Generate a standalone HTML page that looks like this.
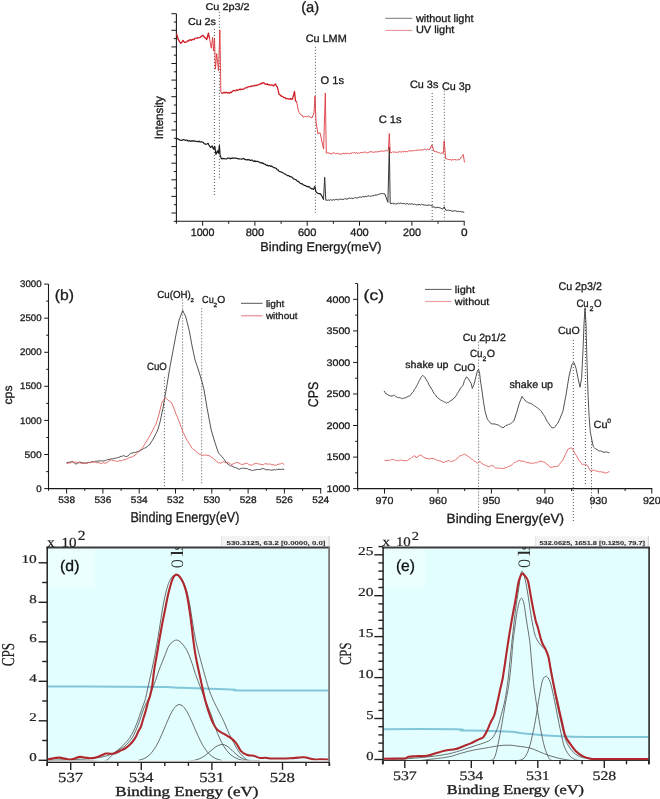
<!DOCTYPE html>
<html><head><meta charset="utf-8"><style>
html,body{margin:0;padding:0;background:#fff;}
svg{display:block;will-change:transform;filter:blur(0.35px);}
</style></head><body>
<svg width="660" height="799" viewBox="0 0 660 799" text-rendering="geometricPrecision">
<rect width="660" height="799" fill="#fff"/>
<line x1="176.4" y1="13.7" x2="176.4" y2="221.8" stroke="#1a1a1a" stroke-width="1.1" />
<line x1="175.9" y1="221.3" x2="464.7" y2="221.3" stroke="#1a1a1a" stroke-width="1.1" />
<line x1="171.4" y1="13.7" x2="176.4" y2="13.7" stroke="#1a1a1a" stroke-width="1.0" />
<line x1="173.8" y1="22" x2="176.4" y2="22" stroke="#1a1a1a" stroke-width="1.0" />
<line x1="171.4" y1="30.3" x2="176.4" y2="30.3" stroke="#1a1a1a" stroke-width="1.0" />
<line x1="173.8" y1="38.6" x2="176.4" y2="38.6" stroke="#1a1a1a" stroke-width="1.0" />
<line x1="171.4" y1="46.9" x2="176.4" y2="46.9" stroke="#1a1a1a" stroke-width="1.0" />
<line x1="173.8" y1="55.2" x2="176.4" y2="55.2" stroke="#1a1a1a" stroke-width="1.0" />
<line x1="171.4" y1="63.5" x2="176.4" y2="63.5" stroke="#1a1a1a" stroke-width="1.0" />
<line x1="173.8" y1="71.8" x2="176.4" y2="71.8" stroke="#1a1a1a" stroke-width="1.0" />
<line x1="171.4" y1="80.1" x2="176.4" y2="80.1" stroke="#1a1a1a" stroke-width="1.0" />
<line x1="173.8" y1="88.4" x2="176.4" y2="88.4" stroke="#1a1a1a" stroke-width="1.0" />
<line x1="171.4" y1="96.7" x2="176.4" y2="96.7" stroke="#1a1a1a" stroke-width="1.0" />
<line x1="173.8" y1="105" x2="176.4" y2="105" stroke="#1a1a1a" stroke-width="1.0" />
<line x1="171.4" y1="113.3" x2="176.4" y2="113.3" stroke="#1a1a1a" stroke-width="1.0" />
<line x1="173.8" y1="121.7" x2="176.4" y2="121.7" stroke="#1a1a1a" stroke-width="1.0" />
<line x1="171.4" y1="130" x2="176.4" y2="130" stroke="#1a1a1a" stroke-width="1.0" />
<line x1="173.8" y1="138.3" x2="176.4" y2="138.3" stroke="#1a1a1a" stroke-width="1.0" />
<line x1="171.4" y1="146.6" x2="176.4" y2="146.6" stroke="#1a1a1a" stroke-width="1.0" />
<line x1="173.8" y1="154.9" x2="176.4" y2="154.9" stroke="#1a1a1a" stroke-width="1.0" />
<line x1="171.4" y1="163.2" x2="176.4" y2="163.2" stroke="#1a1a1a" stroke-width="1.0" />
<line x1="173.8" y1="171.5" x2="176.4" y2="171.5" stroke="#1a1a1a" stroke-width="1.0" />
<line x1="171.4" y1="179.8" x2="176.4" y2="179.8" stroke="#1a1a1a" stroke-width="1.0" />
<line x1="173.8" y1="188.1" x2="176.4" y2="188.1" stroke="#1a1a1a" stroke-width="1.0" />
<line x1="171.4" y1="196.4" x2="176.4" y2="196.4" stroke="#1a1a1a" stroke-width="1.0" />
<line x1="173.8" y1="204.7" x2="176.4" y2="204.7" stroke="#1a1a1a" stroke-width="1.0" />
<line x1="171.4" y1="213" x2="176.4" y2="213" stroke="#1a1a1a" stroke-width="1.0" />
<line x1="173.8" y1="221.3" x2="176.4" y2="221.3" stroke="#1a1a1a" stroke-width="1.0" />
<line x1="464.2" y1="221.3" x2="464.2" y2="225.8" stroke="#1a1a1a" stroke-width="1.0" />
<line x1="438" y1="221.3" x2="438" y2="223.8" stroke="#1a1a1a" stroke-width="1.0" />
<line x1="411.9" y1="221.3" x2="411.9" y2="225.8" stroke="#1a1a1a" stroke-width="1.0" />
<line x1="385.7" y1="221.3" x2="385.7" y2="223.8" stroke="#1a1a1a" stroke-width="1.0" />
<line x1="359.5" y1="221.3" x2="359.5" y2="225.8" stroke="#1a1a1a" stroke-width="1.0" />
<line x1="333.4" y1="221.3" x2="333.4" y2="223.8" stroke="#1a1a1a" stroke-width="1.0" />
<line x1="307.2" y1="221.3" x2="307.2" y2="225.8" stroke="#1a1a1a" stroke-width="1.0" />
<line x1="281.1" y1="221.3" x2="281.1" y2="223.8" stroke="#1a1a1a" stroke-width="1.0" />
<line x1="254.9" y1="221.3" x2="254.9" y2="225.8" stroke="#1a1a1a" stroke-width="1.0" />
<line x1="228.7" y1="221.3" x2="228.7" y2="223.8" stroke="#1a1a1a" stroke-width="1.0" />
<line x1="202.6" y1="221.3" x2="202.6" y2="225.8" stroke="#1a1a1a" stroke-width="1.0" />
<line x1="176.4" y1="221.3" x2="176.4" y2="223.8" stroke="#1a1a1a" stroke-width="1.0" />
<text x="202.6" y="235.7" font-family='"Liberation Sans", sans-serif' font-size="10.8" fill="#1a1a1a" stroke="#1a1a1a" stroke-width="0.3" textLength="23.8" lengthAdjust="spacingAndGlyphs" text-anchor="middle">1000</text>
<text x="254.9" y="235.7" font-family='"Liberation Sans", sans-serif' font-size="10.8" fill="#1a1a1a" stroke="#1a1a1a" stroke-width="0.3" textLength="18.5" lengthAdjust="spacingAndGlyphs" text-anchor="middle">800</text>
<text x="307.2" y="235.7" font-family='"Liberation Sans", sans-serif' font-size="10.8" fill="#1a1a1a" stroke="#1a1a1a" stroke-width="0.3" textLength="18.5" lengthAdjust="spacingAndGlyphs" text-anchor="middle">600</text>
<text x="359.5" y="235.7" font-family='"Liberation Sans", sans-serif' font-size="10.8" fill="#1a1a1a" stroke="#1a1a1a" stroke-width="0.3" textLength="18.5" lengthAdjust="spacingAndGlyphs" text-anchor="middle">400</text>
<text x="411.9" y="235.7" font-family='"Liberation Sans", sans-serif' font-size="10.8" fill="#1a1a1a" stroke="#1a1a1a" stroke-width="0.3" textLength="18" lengthAdjust="spacingAndGlyphs" text-anchor="middle">200</text>
<text x="464.2" y="235.7" font-family='"Liberation Sans", sans-serif' font-size="10.8" fill="#1a1a1a" stroke="#1a1a1a" stroke-width="0.3" textLength="6.6" lengthAdjust="spacingAndGlyphs" text-anchor="middle">0</text>
<text x="260.3" y="251.3" font-family='"Liberation Sans", sans-serif' font-size="12.7" fill="#1a1a1a" stroke="#1a1a1a" stroke-width="0.3" textLength="121.2" lengthAdjust="spacingAndGlyphs" >Binding Energy(meV)</text>
<text transform="translate(162.9,139.2) rotate(-90)" x="0" y="0" font-family='"Liberation Sans", sans-serif' font-size="11.9" fill="#1a1a1a" stroke="#1a1a1a" stroke-width="0.3" textLength="43" lengthAdjust="spacingAndGlyphs">Intensity</text>
<text x="301.2" y="11.9" font-family='"Liberation Sans", sans-serif' font-size="14.7" fill="#1a1a1a" stroke="#1a1a1a" stroke-width="0.3" textLength="18" lengthAdjust="spacingAndGlyphs" >(a)</text>
<line x1="385.3" y1="18.3" x2="412.3" y2="18.3" stroke="#555" stroke-width="0.8" />
<text x="415.9" y="22.2" font-family='"Liberation Sans", sans-serif' font-size="10.7" fill="#1a1a1a" stroke="#1a1a1a" stroke-width="0.3" textLength="57.6" lengthAdjust="spacingAndGlyphs" >without light</text>
<line x1="385.3" y1="30.4" x2="412.3" y2="30.4" stroke="#e07070" stroke-width="0.8" />
<text x="415.9" y="33.3" font-family='"Liberation Sans", sans-serif' font-size="10.4" fill="#1a1a1a" stroke="#1a1a1a" stroke-width="0.3" textLength="38.4" lengthAdjust="spacingAndGlyphs" >UV light</text>
<text x="205.5" y="9.8" font-family='"Liberation Sans", sans-serif' font-size="9.8" fill="#1a1a1a" stroke="#1a1a1a" stroke-width="0.3" textLength="44.1" lengthAdjust="spacingAndGlyphs" >Cu 2p3/2</text>
<text x="187.9" y="25.3" font-family='"Liberation Sans", sans-serif' font-size="10.2" fill="#1a1a1a" stroke="#1a1a1a" stroke-width="0.3" textLength="28.1" lengthAdjust="spacingAndGlyphs" >Cu 2s</text>
<text x="305.7" y="41.8" font-family='"Liberation Sans", sans-serif' font-size="10.7" fill="#1a1a1a" stroke="#1a1a1a" stroke-width="0.3" textLength="41" lengthAdjust="spacingAndGlyphs" >Cu LMM</text>
<text x="320.6" y="84.4" font-family='"Liberation Sans", sans-serif' font-size="11" fill="#1a1a1a" stroke="#1a1a1a" stroke-width="0.3" textLength="23.4" lengthAdjust="spacingAndGlyphs" >O 1s</text>
<text x="410" y="87.8" font-family='"Liberation Sans", sans-serif' font-size="10.7" fill="#1a1a1a" stroke="#1a1a1a" stroke-width="0.3" textLength="28.3" lengthAdjust="spacingAndGlyphs" >Cu 3s</text>
<text x="442" y="89.7" font-family='"Liberation Sans", sans-serif' font-size="11" fill="#1a1a1a" stroke="#1a1a1a" stroke-width="0.3" textLength="28.8" lengthAdjust="spacingAndGlyphs" >Cu 3p</text>
<text x="378.7" y="122.8" font-family='"Liberation Sans", sans-serif' font-size="10.7" fill="#1a1a1a" stroke="#1a1a1a" stroke-width="0.3" textLength="22.9" lengthAdjust="spacingAndGlyphs" >C 1s</text>
<line x1="214.4" y1="29" x2="214.4" y2="195" stroke="#484848" stroke-width="0.95" stroke-dasharray="1 2"/>
<line x1="219.4" y1="11.8" x2="219.4" y2="178.5" stroke="#484848" stroke-width="0.95" stroke-dasharray="1 2"/>
<line x1="315.4" y1="46.8" x2="315.4" y2="213.5" stroke="#484848" stroke-width="0.95" stroke-dasharray="1 2"/>
<line x1="432.2" y1="93" x2="432.2" y2="220.2" stroke="#484848" stroke-width="0.95" stroke-dasharray="1 2"/>
<line x1="444.3" y1="90.8" x2="444.3" y2="220.2" stroke="#484848" stroke-width="0.95" stroke-dasharray="1 2"/>
<polyline points="176.7,138.5 177.6,138.7 178.6,139.4 179.5,139.7 180.4,140.3 181.2,140.4 182.1,140.4 182.9,139.7 183.8,139.6 184.6,140.1 185.5,140.6 186.4,140.1 187.2,140.2 188.1,141.2 189,140.7 189.9,140.9 190.8,141.3 191.7,140.9 192.6,141.2 193.4,140.6 194.3,141.2 195.2,141.1 196,141.6 196.8,141.3 197.6,141.7 198.4,141.7 199.2,141.1 200,142 200.8,141.9 201.6,141.9 202.4,142.2 203.3,142.3 204.1,143.7 205,143.8 205.8,144.3 206.9,144 208.1,143.3 208.9,145.1 209.8,146.3 210.6,147.5 212.2,145.9 213.4,149.1 214.8,146.4 215.9,154.4 217.5,150.7 218.5,153.3 219.4,145.4 220.1,154.9 221.2,158.4 222,158.9 222.9,158.3 223.7,158.8 224.5,158.5 225.3,159 226.2,159 227,158.6 227.8,158.1 228.6,158.1 229.4,158.1 230.2,158.9 231,158.2 231.8,158.4 232.6,157.9 233.4,158.1 234.2,158.2 235,158.1 235.8,158.1 236.7,158.4 237.5,158.5 238.3,158.9 239.1,158.7 239.9,159 240.7,159 241.6,159.2 242.4,158.9 243.2,158.4 244,158.8 244.8,159.4 245.7,159.7 246.5,159.8 247.4,159.6 248.2,159.9 249,159.5 249.9,160.4 250.7,160.3 251.6,160.2 252.4,160.1 253.2,161.1 254.1,161.5 254.9,160.7 255.7,161.6 256.6,161.4 257.4,161.3 258.3,161.6 259.1,162 259.9,162.6 260.8,163 261.6,162.4 262.4,163.4 263.2,163.1 264.1,164.1 264.9,164 265.7,164.9 266.5,165.3 267.4,165.1 268.2,166 269,165.5 269.8,165.6 270.7,166.5 271.5,166.1 272.3,166.6 273.1,167.2 274,167.7 274.8,167.9 275.6,168.1 276.5,168.5 277.3,170 278.2,169.9 279,171.2 279.9,171.7 280.7,171.8 281.5,172.1 282.4,172.6 283.2,173.1 284.1,173.6 284.9,174 285.8,174.4 286.6,174.9 287.4,175.7 288.3,175.6 289.1,175.9 290,176.7 290.8,176.6 291.7,177.1 292.5,177.7 293.4,178.8 294.2,178.9 295.1,179.6 296,179.6 296.9,180.7 297.7,181.4 298.6,181.4 299.5,182.7 300.3,183.3 301.2,183.8 302.1,183.7 302.9,184.7 303.8,184.9 304.6,185.5 305.5,185.5 306.3,186.3 307.2,186.4 308,187 308.8,186.6 309.6,187 310.4,188.1 311.2,188.8 312,188.4 312.8,189 313.6,189.4 314.8,186.4 315.9,191.7 317,192.8 318.2,193.6 319.4,193.6 320.5,193.9 321.5,195.5 322.5,197.2 323.5,199.2" fill="none" stroke="#1e1e1e" stroke-width="1.2" stroke-linejoin="round" stroke-linecap="round" />
<polyline points="323.5,199.2 324.7,177.3 325.8,200.3 326.6,200.1 327.4,200.3 328.2,200 329,200 329.8,200.4 330.6,199.5 331.4,200.1 332.3,200.2 333.1,199.7 333.9,199.6 334.7,200.2 335.5,199.5 336.3,199.4 337.1,199.7 337.9,199.7 338.7,199.8 339.6,199.1 340.4,199.3 341.3,199.2 342.1,199.7 342.9,199.1 343.8,199.5 344.6,198.7 345.4,198.8 346.3,199 347.1,199.2 348,198.6 348.8,198.3 349.6,198.1 350.5,198.5 351.3,198 352.2,198.6 353,198.2 353.8,198.5 354.7,197.6 355.5,197.6 356.4,198.1 357.2,197.8 358.1,197.9 358.9,197.3 359.8,196.9 360.6,197 361.4,197.4 362.3,196.7 363.1,196.7 364,196.7 364.8,196.6 365.7,196.4 366.5,196.9 367.4,195.9 368.2,196.2 369,195.5 369.9,196.4 370.7,196.2 371.6,196.2 372.4,195.4 373.2,195.8 374.1,195.7 374.9,194.7 375.8,195.2 376.6,195.1 377.4,194.8 378.3,194.5 379.1,194.1 379.9,194 380.8,193.7 381.6,193.4 382.5,193.8 383.3,193.6 384.8,193.9 387.9,202.3 389.3,147 390.2,203.4 391.1,203.2 391.9,203.8 392.8,202.9 393.6,203.9 394.4,203.6 395.3,203.9 396.1,203.9 397,203.9 397.9,203.5 398.7,202.9 399.6,203.7 400.4,203.1 401.2,203.3 402.1,203.5 402.9,203.7 403.7,203.6 404.5,203.5 405.3,204.2 406.1,203.9 406.9,203.6 407.7,203.6 408.6,204.3 409.4,203.9 410.2,204.3 411,203.9 411.8,203.7 412.6,204.1 413.4,204.5 414.2,204.2 415,203.9 415.8,204.7 416.6,204.9 417.4,204.8 418.2,204.9 419,204.1 419.9,204.8 420.7,205.1 421.5,204.3 422.3,204.6 423.1,204.7 423.9,205 424.7,205.1 425.5,205.1 426.3,205.2 427.1,205.7 428,204.9 428.8,205 429.6,205.2 430.4,205.3 431.2,205.8 432.2,205.4 433.6,207.2 434.5,206.8 435.3,207.9 436.2,207.8 437.1,207.1 438,207.6 438.8,207.5 439.7,207.8 440.7,208.1 441.7,208.6 442.7,209.2 444.2,206.8 445,208.7 445.8,210.2 446.7,210.4 447.6,210.3 448.5,210.2 449.4,210.5 450.3,210.3 451.2,210.9 452.1,211.2 453,211.1 453.8,211 454.6,210.7 455.4,210.8 456.2,211.1 457.1,211.4 457.9,211.6 458.7,211.2 459.5,211.7 460.3,211.4 461.2,211.8 462.1,211.8 463,211.9 463.9,212.3" fill="none" stroke="#2a2a2a" stroke-width="0.95" stroke-linejoin="round" stroke-linecap="round" />
<polyline points="176.7,34.1 178.1,39.1 179,40.6 179.9,42.1 180.8,43.2 181.9,42.2 183.1,40.5 184.5,42.3 185.5,42.4 186.6,41.7 187.6,40.9 188.5,41.1 189.4,39.8 190.4,40 191.3,40.3 192.2,39.5 193.1,39.4 194,39.5 194.9,38.3 195.8,38.4 196.7,38.2 197.6,37.7 198.6,37.8 199.5,37.6 200.4,37.3 201.3,36.1 202.2,35.8 203.1,35.5 204.5,37.3 205.6,38.1 206.7,39.5 208.4,33.2 209.5,38.2" fill="none" stroke="#cf2029" stroke-width="1.35" stroke-linejoin="round" stroke-linecap="round" />
<polyline points="209.5,38.2 211.3,48.2 212.6,37.3 213.5,50.9 214.5,38.2 215.4,69.1 216.7,53.6 218.5,70.9 219.9,30 220.4,60 220.8,92.1 221.5,92.7" fill="none" stroke="#dc3a40" stroke-width="0.9" stroke-linejoin="round" stroke-linecap="round" />
<polyline points="221.5,92.7 222.4,93.2 223.2,92.9 224.1,92.2 224.9,92.9 225.8,92.5 226.7,92.3 227.6,93 228.5,92.7 229.4,93.3 230.4,92.1 231.3,92.6 232.3,91.3 233.2,90.7 234.2,90.5 235,90.9 235.8,90.6 236.6,89.8 237.4,90.4 238.3,89.8 239.1,89.8 239.9,89.1 240.7,89.8 241.5,89.1 242.3,89.1 243.1,89.3 243.9,89 244.8,88.1 245.6,87.9 246.4,87.9 247.3,87.2 248.1,87 249,86.6 249.8,86.6 250.7,86.7 251.5,85.8 252.4,86.1 253.3,86.1 254.1,85.5 255,85.3 255.9,85.7 256.8,85.1 257.6,84.8 258.5,84.8 259.3,84.4 260.2,84.2 261,83.1 261.9,83.8 262.7,82.8 263.7,82.6 264.8,83.9 265.8,84 266.6,84.6 267.4,83.8 268.2,84.9 269,84.6 269.8,85 270.6,85.1 271.6,84.8 272.6,85.2 273.6,86.1 274.6,84.7 275.5,84 276.4,85.9 277.3,86.7 279.1,94.5 280,94.6 280.9,95.8 281.8,96.4 282.7,96.4 283.7,97.6 284.8,97.6 285.8,98.5 286.9,98.5 287.9,98.9 289,99 289.9,99.3 290.8,98.5 291.6,99.3 292.5,99 294.5,91.5 295.5,101 296.5,101.5" fill="none" stroke="#cf2029" stroke-width="1.3" stroke-linejoin="round" stroke-linecap="round" />
<polyline points="296.5,101.5 298.5,111 299.3,112.7 300.2,114.1 301,115 302,115.1 303,116.9 304,117 304.8,116.3 305.7,116.5 306.5,116.6 307.3,116.8 308.2,116 309,116 310,117.2 311,117.4 312,118 313,115.3 314,113 315,96 316,122 318,134 319,133.1 320,132.6 323.6,149.1 325.3,93 326.3,153.1 327.2,152.8 328.1,152.8 329.1,153.1 330,153.6 330.9,153.7 331.8,154 332.8,152.9 333.7,152.7 334.6,153.1 335.5,153.8 336.4,153.4 337.3,153.4 338.2,153.4 339.1,154 340,154 340.9,154.3 341.7,153.8 342.6,153.7 343.4,153.2 344.3,154.2 345.2,153 346,153.5 346.9,153.9 347.8,152.9 348.6,153.6 349.5,153.8 350.3,153.3 351.2,153.1 352,153.4 352.8,152.5 353.7,152.9 354.5,152.5 355.3,153.3 356.1,152.6 356.9,152.7 357.8,153.4 358.6,153.1 359.4,153.2 360.2,152.6 361,152.6 361.9,152.8 362.7,152.5 363.5,152.2 364.3,152.3 365.1,152 365.9,152.2 366.8,152.9 367.6,152.8 368.4,152.4 369.2,152.2 370,151.9 370.9,151.6 371.7,151.8 372.5,152 373.3,152.3 374.2,152.3 375,151.6 375.9,152 376.7,151.9 377.6,151.8 378.4,151.6 379.3,151.7 380.1,151.1 381,151.4 381.8,150.9 382.7,151 383.5,151.3 384.4,151.1 385.2,150.8 386.3,150.4 387.3,151 388.4,150.3 389.3,133.5 390.2,152.5 391,152.6 391.9,152.5 392.7,151.7 393.5,152.3 394.3,151.9 395.2,152.3 396,152 396.8,152.4 397.7,152.1 398.5,152.2 399.3,151.6 400.2,151.9 401,151.9 401.8,152 402.6,151.3 403.5,151.9 404.3,151.4 405.1,151.8 406,151.5 406.8,151.7 407.6,151.6 408.4,151 409.3,150.9 410.1,150.4 410.9,151.1 411.8,151.2 412.6,150.5 413.4,150.7 414.2,150.7 415.1,150.6 415.9,149.8 416.7,150.5 417.5,150.2 418.4,150.2 419.2,149.9 420,149.8 420.8,150 421.6,150.1 422.5,149.9 423.3,149.9 424.1,149.1 424.9,149.2 425.7,149.5 426.5,149.7 427.4,149.1 428.2,149.6 429,149.5 429.8,149.3 430.9,146.6 431.9,145 434,151.4 434.9,151.7 435.8,151.7 436.7,151.8 437.7,152.2 438.6,152.7 439.5,152.8 440.4,153.5 441.3,153.1 442.3,152.9 443.2,153.5 444.2,140.8 445.7,158.8 446.6,158.9 447.5,159 448.4,159.5 449.2,159.6 450.1,159.4 451,159.9 451.9,160.4 452.7,159.3 453.6,159.8 454.4,159.6 455.2,159.8 456.1,159.4 456.9,160.3 457.8,159.7 458.6,159.3 459.5,159.9 460.4,158.7 461.4,156.8 462.4,156 463.3,154.6 464.4,162" fill="none" stroke="#dc3a40" stroke-width="0.9" stroke-linejoin="round" stroke-linecap="round" />
<line x1="48.5" y1="284.1" x2="48.5" y2="489.1" stroke="#1a1a1a" stroke-width="1.1" />
<line x1="48" y1="488.6" x2="321.2" y2="488.6" stroke="#1a1a1a" stroke-width="1.1" />
<line x1="44.2" y1="488.6" x2="48.5" y2="488.6" stroke="#1a1a1a" stroke-width="1.0" />
<line x1="46.2" y1="471.6" x2="48.5" y2="471.6" stroke="#1a1a1a" stroke-width="1.0" />
<line x1="44.2" y1="454.5" x2="48.5" y2="454.5" stroke="#1a1a1a" stroke-width="1.0" />
<line x1="46.2" y1="437.5" x2="48.5" y2="437.5" stroke="#1a1a1a" stroke-width="1.0" />
<line x1="44.2" y1="420.4" x2="48.5" y2="420.4" stroke="#1a1a1a" stroke-width="1.0" />
<line x1="46.2" y1="403.4" x2="48.5" y2="403.4" stroke="#1a1a1a" stroke-width="1.0" />
<line x1="44.2" y1="386.3" x2="48.5" y2="386.3" stroke="#1a1a1a" stroke-width="1.0" />
<line x1="46.2" y1="369.3" x2="48.5" y2="369.3" stroke="#1a1a1a" stroke-width="1.0" />
<line x1="44.2" y1="352.3" x2="48.5" y2="352.3" stroke="#1a1a1a" stroke-width="1.0" />
<line x1="46.2" y1="335.2" x2="48.5" y2="335.2" stroke="#1a1a1a" stroke-width="1.0" />
<line x1="44.2" y1="318.2" x2="48.5" y2="318.2" stroke="#1a1a1a" stroke-width="1.0" />
<line x1="46.2" y1="301.1" x2="48.5" y2="301.1" stroke="#1a1a1a" stroke-width="1.0" />
<line x1="44.2" y1="284.1" x2="48.5" y2="284.1" stroke="#1a1a1a" stroke-width="1.0" />
<text x="41.6" y="491.7" font-family='"Liberation Sans", sans-serif' font-size="9.5" fill="#1a1a1a" stroke="#1a1a1a" stroke-width="0.3" textLength="5.4" lengthAdjust="spacingAndGlyphs" text-anchor="end">0</text>
<text x="41.6" y="457.6" font-family='"Liberation Sans", sans-serif' font-size="9.5" fill="#1a1a1a" stroke="#1a1a1a" stroke-width="0.3" textLength="17.1" lengthAdjust="spacingAndGlyphs" text-anchor="end">500</text>
<text x="41.6" y="423.5" font-family='"Liberation Sans", sans-serif' font-size="9.5" fill="#1a1a1a" stroke="#1a1a1a" stroke-width="0.3" textLength="21.6" lengthAdjust="spacingAndGlyphs" text-anchor="end">1000</text>
<text x="41.6" y="389.4" font-family='"Liberation Sans", sans-serif' font-size="9.5" fill="#1a1a1a" stroke="#1a1a1a" stroke-width="0.3" textLength="21.6" lengthAdjust="spacingAndGlyphs" text-anchor="end">1500</text>
<text x="41.6" y="355.4" font-family='"Liberation Sans", sans-serif' font-size="9.5" fill="#1a1a1a" stroke="#1a1a1a" stroke-width="0.3" textLength="21.6" lengthAdjust="spacingAndGlyphs" text-anchor="end">2000</text>
<text x="41.6" y="321.3" font-family='"Liberation Sans", sans-serif' font-size="9.5" fill="#1a1a1a" stroke="#1a1a1a" stroke-width="0.3" textLength="21.6" lengthAdjust="spacingAndGlyphs" text-anchor="end">2500</text>
<text x="41.6" y="287.2" font-family='"Liberation Sans", sans-serif' font-size="9.5" fill="#1a1a1a" stroke="#1a1a1a" stroke-width="0.3" textLength="21.6" lengthAdjust="spacingAndGlyphs" text-anchor="end">3000</text>
<line x1="320.7" y1="488.6" x2="320.7" y2="493.6" stroke="#1a1a1a" stroke-width="1.0" />
<line x1="302.6" y1="488.6" x2="302.6" y2="490.8" stroke="#1a1a1a" stroke-width="1.0" />
<line x1="284.4" y1="488.6" x2="284.4" y2="493.6" stroke="#1a1a1a" stroke-width="1.0" />
<line x1="266.3" y1="488.6" x2="266.3" y2="490.8" stroke="#1a1a1a" stroke-width="1.0" />
<line x1="248.1" y1="488.6" x2="248.1" y2="493.6" stroke="#1a1a1a" stroke-width="1.0" />
<line x1="230" y1="488.6" x2="230" y2="490.8" stroke="#1a1a1a" stroke-width="1.0" />
<line x1="211.8" y1="488.6" x2="211.8" y2="493.6" stroke="#1a1a1a" stroke-width="1.0" />
<line x1="193.7" y1="488.6" x2="193.7" y2="490.8" stroke="#1a1a1a" stroke-width="1.0" />
<line x1="175.5" y1="488.6" x2="175.5" y2="493.6" stroke="#1a1a1a" stroke-width="1.0" />
<line x1="157.4" y1="488.6" x2="157.4" y2="490.8" stroke="#1a1a1a" stroke-width="1.0" />
<line x1="139.2" y1="488.6" x2="139.2" y2="493.6" stroke="#1a1a1a" stroke-width="1.0" />
<line x1="121.1" y1="488.6" x2="121.1" y2="490.8" stroke="#1a1a1a" stroke-width="1.0" />
<line x1="102.9" y1="488.6" x2="102.9" y2="493.6" stroke="#1a1a1a" stroke-width="1.0" />
<line x1="84.8" y1="488.6" x2="84.8" y2="490.8" stroke="#1a1a1a" stroke-width="1.0" />
<line x1="66.6" y1="488.6" x2="66.6" y2="493.6" stroke="#1a1a1a" stroke-width="1.0" />
<line x1="48.5" y1="488.6" x2="48.5" y2="490.8" stroke="#1a1a1a" stroke-width="1.0" />
<text x="320.7" y="502.7" font-family='"Liberation Sans", sans-serif' font-size="9.5" fill="#1a1a1a" stroke="#1a1a1a" stroke-width="0.3" textLength="16.8" lengthAdjust="spacingAndGlyphs" text-anchor="middle">524</text>
<text x="284.4" y="502.7" font-family='"Liberation Sans", sans-serif' font-size="9.5" fill="#1a1a1a" stroke="#1a1a1a" stroke-width="0.3" textLength="16.8" lengthAdjust="spacingAndGlyphs" text-anchor="middle">526</text>
<text x="248.1" y="502.7" font-family='"Liberation Sans", sans-serif' font-size="9.5" fill="#1a1a1a" stroke="#1a1a1a" stroke-width="0.3" textLength="16.8" lengthAdjust="spacingAndGlyphs" text-anchor="middle">528</text>
<text x="211.8" y="502.7" font-family='"Liberation Sans", sans-serif' font-size="9.5" fill="#1a1a1a" stroke="#1a1a1a" stroke-width="0.3" textLength="16.8" lengthAdjust="spacingAndGlyphs" text-anchor="middle">530</text>
<text x="175.5" y="502.7" font-family='"Liberation Sans", sans-serif' font-size="9.5" fill="#1a1a1a" stroke="#1a1a1a" stroke-width="0.3" textLength="16.8" lengthAdjust="spacingAndGlyphs" text-anchor="middle">532</text>
<text x="139.2" y="502.7" font-family='"Liberation Sans", sans-serif' font-size="9.5" fill="#1a1a1a" stroke="#1a1a1a" stroke-width="0.3" textLength="16.8" lengthAdjust="spacingAndGlyphs" text-anchor="middle">534</text>
<text x="102.9" y="502.7" font-family='"Liberation Sans", sans-serif' font-size="9.5" fill="#1a1a1a" stroke="#1a1a1a" stroke-width="0.3" textLength="16.8" lengthAdjust="spacingAndGlyphs" text-anchor="middle">536</text>
<text x="66.6" y="502.7" font-family='"Liberation Sans", sans-serif' font-size="9.5" fill="#1a1a1a" stroke="#1a1a1a" stroke-width="0.3" textLength="16.8" lengthAdjust="spacingAndGlyphs" text-anchor="middle">538</text>
<text x="130.4" y="522.4" font-family='"Liberation Sans", sans-serif' font-size="14.2" fill="#1a1a1a" stroke="#1a1a1a" stroke-width="0.3" textLength="109" lengthAdjust="spacingAndGlyphs" >Binding Energy(eV)</text>
<text transform="translate(11.8,404.5) rotate(-90)" x="0" y="0" font-family='"Liberation Sans", sans-serif' font-size="11.9" fill="#1a1a1a" stroke="#1a1a1a" stroke-width="0.3" textLength="19" lengthAdjust="spacingAndGlyphs">cps</text>
<text x="54.8" y="299.6" font-family='"Liberation Sans", sans-serif' font-size="14.8" fill="#1a1a1a" stroke="#1a1a1a" stroke-width="0.3" textLength="19.2" lengthAdjust="spacingAndGlyphs" >(b)</text>
<line x1="241" y1="303.3" x2="262.6" y2="303.3" stroke="#444" stroke-width="0.9" />
<text x="265.9" y="306.8" font-family='"Liberation Sans", sans-serif' font-size="9.6" fill="#1a1a1a" stroke="#1a1a1a" stroke-width="0.3" textLength="18.4" lengthAdjust="spacingAndGlyphs" >light</text>
<line x1="241" y1="315.7" x2="262.6" y2="315.7" stroke="#eaa0a6" stroke-width="1.5" />
<text x="265.9" y="319.2" font-family='"Liberation Sans", sans-serif' font-size="9.6" fill="#1a1a1a" stroke="#1a1a1a" stroke-width="0.3" textLength="31.7" lengthAdjust="spacingAndGlyphs" >without</text>
<text x="157.3" y="297.7" font-family='"Liberation Sans", sans-serif' font-size="10.2" fill="#1a1a1a" stroke="#1a1a1a" stroke-width="0.3" textLength="33.5" lengthAdjust="spacingAndGlyphs" >Cu(OH)</text>
<text x="190.5" y="302" font-family='"Liberation Sans", sans-serif' font-size="5.6" fill="#1a1a1a" stroke="#1a1a1a" stroke-width="0.3" textLength="3.4" lengthAdjust="spacingAndGlyphs" >2</text>
<text x="202.1" y="303.2" font-family='"Liberation Sans", sans-serif' font-size="10.2" fill="#1a1a1a" stroke="#1a1a1a" stroke-width="0.3" textLength="11.7" lengthAdjust="spacingAndGlyphs" >Cu</text>
<text x="213.5" y="306.9" font-family='"Liberation Sans", sans-serif' font-size="6" fill="#1a1a1a" stroke="#1a1a1a" stroke-width="0.3" textLength="3.6" lengthAdjust="spacingAndGlyphs" >2</text>
<text x="217.3" y="303.2" font-family='"Liberation Sans", sans-serif' font-size="10.2" fill="#1a1a1a" stroke="#1a1a1a" stroke-width="0.3" textLength="8" lengthAdjust="spacingAndGlyphs" >O</text>
<text x="147" y="370.2" font-family='"Liberation Sans", sans-serif' font-size="10.4" fill="#1a1a1a" stroke="#1a1a1a" stroke-width="0.3" textLength="19.8" lengthAdjust="spacingAndGlyphs" >CuO</text>
<line x1="164.4" y1="377.2" x2="164.4" y2="488" stroke="#484848" stroke-width="0.95" stroke-dasharray="1 2"/>
<line x1="182.6" y1="299.5" x2="182.6" y2="482.5" stroke="#484848" stroke-width="0.95" stroke-dasharray="1 2"/>
<line x1="201.7" y1="308.3" x2="201.7" y2="484.5" stroke="#484848" stroke-width="0.95" stroke-dasharray="1 2"/>
<polyline points="66.8,462.6 68.1,462.3 69.4,462.1 70.8,462.1 72.1,461.5 73.4,462.3 74.6,463.2 75.9,464.1 77.2,463.5 78.4,462.5 79.7,462.1 80.9,462.3 82.1,462.7 83.4,463.1 84.6,462.7 85.8,463.3 87,462.9 88.2,462.4 89.5,462.7 90.7,462.4 91.9,461.6 93.1,462 94.4,461.7 95.6,461.1 96.8,461.2 98,461.2 99.2,460.8 100.3,460.7 101.5,461.1 102.7,460.7 103.9,461.1 105.2,460.5 106.4,460.1 107.7,459.6 109,459.5 110.2,459.1 111.5,458.8 112.7,458.9 113.9,458.4 115.2,458.3 116.4,457.9 117.6,457.7 118.8,457.4 120,456.8 121.2,456.2 122.4,456.3 123.6,455.5 125.2,456.4 126.7,456.5 128,455.8 129.2,454.7 130.5,453.5 131.8,453.1 133.2,452.7 134.5,452.5 135.8,452.4 137.3,451.5 138.8,451.2 139.9,450.8 141,449.9 142.2,449.7 143.3,448.7 144.4,448.2 145.7,447.7 147.1,446.8 148.4,445.3 149.7,444.8 151.1,442.2 152.5,440.3 153.9,437.6 155.2,435 156.4,432.9 157.7,430 160,422.2 163,408.2 165,396.2 167.1,384.2 170.1,366.1 173.1,350.1 176.1,334.1 179.1,320 182.7,310.4 183.8,312.9 185,315.1 186.1,318 189.1,330.1 192.1,346.1 195.1,360.1 199.1,372.1 202.1,382.2 204.1,390.2 207.1,408.2 210.1,424.2 211.2,430 214.8,442.1 218.5,453 219.7,454.3 220.9,455.7 222.1,456.7 223.3,458.3 224.6,460 225.8,462.1 227,463 228.2,464.5 229.4,465.2 230.6,465.9 231.8,465.9 233,466.6 234.2,467.3 235.6,467.6 237.1,468.2 238.5,469.2 239.9,469.1 241.3,468.3 242.7,468.2 243.9,468.3 245.2,468.4 246.4,468.5 247.6,468.7 248.8,469.5 250,469.5 251.2,470.3 252.4,470.6 253.6,470.1 254.8,470.1 256.1,469.7 257.3,469.5 258.5,469.4 259.9,469.5 261.3,469 262.7,468.5 264.1,468.8 265.6,469.7 267,469.8 268.2,469.6 269.4,469.8 270.6,470.2 271.8,470.1 273,470 274.2,469.5 275.4,470.1 276.7,469.3 277.9,469.4 279.1,469.2 280.3,469.6 281.5,469.3 282.7,469.2 283.9,469.4" fill="none" stroke="#333" stroke-width="0.85" stroke-linejoin="round" stroke-linecap="round" />
<polyline points="66.8,463.3 68,463.1 69.2,463.1 70.4,462.9 71.6,462.3 72.8,462.1 74,462.2 75.2,462.1 76.3,462.1 77.5,462.7 78.6,462.8 79.7,462.9 80.8,463.1 82,463.4 83.1,463.1 84.2,463.6 85.3,463.3 86.5,462.9 87.6,463.2 88.8,462.3 89.9,462.7 91,461.9 92.2,462.2 93.3,461.8 94.5,461.9 95.6,462.2 96.8,462.8 97.9,462.4 99,462.7 100.2,463.3 101.3,463.5 102.5,463.1 103.6,462.6 104.7,463.2 105.9,463.1 107,462.6 108.3,461.4 109.5,460.8 110.8,460 111.9,460 113.1,460.4 114.2,460.8 115.3,460.7 116.5,461.4 117.6,461.5 118.9,460.8 120.1,460.6 121.4,460.8 122.7,460.1 123.9,459.8 125.2,459.5 126.5,459.1 127.7,458.5 128.9,457.9 130.2,457.1 131.4,457.2 132.7,456.5 133.9,456 135.1,455.1 136.4,453.9 137.6,452.8 138.8,452 139.9,450.6 141.1,449.5 142.2,448.2 143.3,446.7 144.5,444.5 145.6,442.7 146.8,440.9 147.9,439.1 149.2,436.7 150.5,434.6 151.8,432 153.2,429.4 154.6,426.4 156,424.2 159,414.2 162,402.2 163.5,400.2 165,397.6 166.6,398.8 168.1,400.2 169.6,401.2 171.1,402.2 173.1,406.2 176.1,414.2 177.4,417.3 178.8,420.8 180.1,424.2 183.1,432.3 184.4,434.9 185.8,437.9 187.1,440.3 188.3,442 189.6,444.3 190.8,446 192.1,448.3 193.3,449.5 194.5,449.9 195.7,451.1 196.9,452.2 198.1,453.3 199.4,454.1 200.8,454.3 202.1,455.3 203.3,455.3 204.5,455.1 205.7,455.1 206.9,455.3 208.1,455.3 210,456.1 211.2,457.3 212.4,457.7 213.6,458.5 214.8,460.1 216.1,460.6 217.3,462.1 218.5,462.8 219.7,462.8 220.9,463.3 222.1,462.3 223.3,461.8 224.5,462.2 225.8,462.6 227,462.1 228.2,462.7 229.4,463.1 230.6,464.1 231.8,464.5 233,464 234.2,463.5 235.5,462.9 236.7,462.5 237.9,462.5 239.1,463.1 240.3,463.9 241.5,464.4 242.7,464.5 243.9,464.1 245.2,463.3 246.4,463.3 247.6,463.6 248.8,464.5 250,465 251.2,465.2 252.4,464.8 253.7,464 254.9,463.8 256.1,463.3 257.3,463.6 258.5,464 259.7,464 260.9,464.5 262.1,464.7 263.4,464.5 264.6,463.8 265.8,463.9 267,463.8 268.2,464.3 269.4,463.9 270.6,464.2 271.8,464.8 273.1,464.7 274.3,465.1 275.5,465.2 276.7,465 277.9,464.3 279.1,464.1 280.3,463.9 281.5,463.4 282.7,463.3 283.9,464.5" fill="none" stroke="#e05555" stroke-width="0.85" stroke-linejoin="round" stroke-linecap="round" />
<line x1="357.6" y1="283.5" x2="357.6" y2="489.1" stroke="#1a1a1a" stroke-width="1.1" />
<line x1="357.1" y1="488.6" x2="652.3" y2="488.6" stroke="#1a1a1a" stroke-width="1.1" />
<line x1="353.1" y1="488.6" x2="357.6" y2="488.6" stroke="#1a1a1a" stroke-width="1.0" />
<line x1="355.2" y1="472.8" x2="357.6" y2="472.8" stroke="#1a1a1a" stroke-width="1.0" />
<line x1="353.1" y1="457.1" x2="357.6" y2="457.1" stroke="#1a1a1a" stroke-width="1.0" />
<line x1="355.2" y1="441.3" x2="357.6" y2="441.3" stroke="#1a1a1a" stroke-width="1.0" />
<line x1="353.1" y1="425.5" x2="357.6" y2="425.5" stroke="#1a1a1a" stroke-width="1.0" />
<line x1="355.2" y1="409.7" x2="357.6" y2="409.7" stroke="#1a1a1a" stroke-width="1.0" />
<line x1="353.1" y1="394" x2="357.6" y2="394" stroke="#1a1a1a" stroke-width="1.0" />
<line x1="355.2" y1="378.2" x2="357.6" y2="378.2" stroke="#1a1a1a" stroke-width="1.0" />
<line x1="353.1" y1="362.4" x2="357.6" y2="362.4" stroke="#1a1a1a" stroke-width="1.0" />
<line x1="355.2" y1="346.6" x2="357.6" y2="346.6" stroke="#1a1a1a" stroke-width="1.0" />
<line x1="353.1" y1="330.9" x2="357.6" y2="330.9" stroke="#1a1a1a" stroke-width="1.0" />
<line x1="355.2" y1="315.1" x2="357.6" y2="315.1" stroke="#1a1a1a" stroke-width="1.0" />
<line x1="353.1" y1="299.3" x2="357.6" y2="299.3" stroke="#1a1a1a" stroke-width="1.0" />
<line x1="355.2" y1="283.5" x2="357.6" y2="283.5" stroke="#1a1a1a" stroke-width="1.0" />
<text x="350.3" y="491.8" font-family='"Liberation Sans", sans-serif' font-size="9.6" fill="#1a1a1a" stroke="#1a1a1a" stroke-width="0.3" textLength="23.8" lengthAdjust="spacingAndGlyphs" text-anchor="end">1000</text>
<text x="350.3" y="460.2" font-family='"Liberation Sans", sans-serif' font-size="9.6" fill="#1a1a1a" stroke="#1a1a1a" stroke-width="0.3" textLength="23.8" lengthAdjust="spacingAndGlyphs" text-anchor="end">1500</text>
<text x="350.3" y="428.7" font-family='"Liberation Sans", sans-serif' font-size="9.6" fill="#1a1a1a" stroke="#1a1a1a" stroke-width="0.3" textLength="23.8" lengthAdjust="spacingAndGlyphs" text-anchor="end">2000</text>
<text x="350.3" y="397.2" font-family='"Liberation Sans", sans-serif' font-size="9.6" fill="#1a1a1a" stroke="#1a1a1a" stroke-width="0.3" textLength="23.8" lengthAdjust="spacingAndGlyphs" text-anchor="end">2500</text>
<text x="350.3" y="365.6" font-family='"Liberation Sans", sans-serif' font-size="9.6" fill="#1a1a1a" stroke="#1a1a1a" stroke-width="0.3" textLength="23.8" lengthAdjust="spacingAndGlyphs" text-anchor="end">3000</text>
<text x="350.3" y="334.1" font-family='"Liberation Sans", sans-serif' font-size="9.6" fill="#1a1a1a" stroke="#1a1a1a" stroke-width="0.3" textLength="23.8" lengthAdjust="spacingAndGlyphs" text-anchor="end">3500</text>
<text x="350.3" y="302.5" font-family='"Liberation Sans", sans-serif' font-size="9.6" fill="#1a1a1a" stroke="#1a1a1a" stroke-width="0.3" textLength="23.8" lengthAdjust="spacingAndGlyphs" text-anchor="end">4000</text>
<line x1="651.8" y1="488.6" x2="651.8" y2="493.6" stroke="#1a1a1a" stroke-width="1.0" />
<line x1="625.1" y1="488.6" x2="625.1" y2="491" stroke="#1a1a1a" stroke-width="1.0" />
<line x1="598.3" y1="488.6" x2="598.3" y2="493.6" stroke="#1a1a1a" stroke-width="1.0" />
<line x1="571.6" y1="488.6" x2="571.6" y2="491" stroke="#1a1a1a" stroke-width="1.0" />
<line x1="544.9" y1="488.6" x2="544.9" y2="493.6" stroke="#1a1a1a" stroke-width="1.0" />
<line x1="518.1" y1="488.6" x2="518.1" y2="491" stroke="#1a1a1a" stroke-width="1.0" />
<line x1="491.4" y1="488.6" x2="491.4" y2="493.6" stroke="#1a1a1a" stroke-width="1.0" />
<line x1="464.7" y1="488.6" x2="464.7" y2="491" stroke="#1a1a1a" stroke-width="1.0" />
<line x1="438" y1="488.6" x2="438" y2="493.6" stroke="#1a1a1a" stroke-width="1.0" />
<line x1="411.2" y1="488.6" x2="411.2" y2="491" stroke="#1a1a1a" stroke-width="1.0" />
<line x1="384.5" y1="488.6" x2="384.5" y2="493.6" stroke="#1a1a1a" stroke-width="1.0" />
<line x1="357.8" y1="488.6" x2="357.8" y2="491" stroke="#1a1a1a" stroke-width="1.0" />
<text x="651.8" y="503.6" font-family='"Liberation Sans", sans-serif' font-size="10.2" fill="#1a1a1a" stroke="#1a1a1a" stroke-width="0.3" textLength="17.8" lengthAdjust="spacingAndGlyphs" text-anchor="middle">920</text>
<text x="598.3" y="503.6" font-family='"Liberation Sans", sans-serif' font-size="10.2" fill="#1a1a1a" stroke="#1a1a1a" stroke-width="0.3" textLength="17.8" lengthAdjust="spacingAndGlyphs" text-anchor="middle">930</text>
<text x="544.9" y="503.6" font-family='"Liberation Sans", sans-serif' font-size="10.2" fill="#1a1a1a" stroke="#1a1a1a" stroke-width="0.3" textLength="17.8" lengthAdjust="spacingAndGlyphs" text-anchor="middle">940</text>
<text x="491.4" y="503.6" font-family='"Liberation Sans", sans-serif' font-size="10.2" fill="#1a1a1a" stroke="#1a1a1a" stroke-width="0.3" textLength="17.8" lengthAdjust="spacingAndGlyphs" text-anchor="middle">950</text>
<text x="438" y="503.6" font-family='"Liberation Sans", sans-serif' font-size="10.2" fill="#1a1a1a" stroke="#1a1a1a" stroke-width="0.3" textLength="17.8" lengthAdjust="spacingAndGlyphs" text-anchor="middle">960</text>
<text x="384.5" y="503.6" font-family='"Liberation Sans", sans-serif' font-size="10.2" fill="#1a1a1a" stroke="#1a1a1a" stroke-width="0.3" textLength="17.8" lengthAdjust="spacingAndGlyphs" text-anchor="middle">970</text>
<text x="446.6" y="522.9" font-family='"Liberation Sans", sans-serif' font-size="13.3" fill="#1a1a1a" stroke="#1a1a1a" stroke-width="0.3" textLength="117.5" lengthAdjust="spacingAndGlyphs" >Binding Energy(eV)</text>
<text transform="translate(318.2,407.3) rotate(-90)" x="0" y="0" font-family='"Liberation Sans", sans-serif' font-size="14" fill="#1a1a1a" stroke="#1a1a1a" stroke-width="0.3" textLength="25.5" lengthAdjust="spacingAndGlyphs">CPS</text>
<text x="363.6" y="300.4" font-family='"Liberation Sans", sans-serif' font-size="14.5" fill="#1a1a1a" stroke="#1a1a1a" stroke-width="0.3" textLength="20.4" lengthAdjust="spacingAndGlyphs" >(c)</text>
<line x1="425" y1="289.4" x2="451.5" y2="289.4" stroke="#444" stroke-width="0.9" />
<text x="454.8" y="293.2" font-family='"Liberation Sans", sans-serif' font-size="10.1" fill="#1a1a1a" stroke="#1a1a1a" stroke-width="0.3" textLength="20.2" lengthAdjust="spacingAndGlyphs" >light</text>
<line x1="425" y1="301.5" x2="451.5" y2="301.5" stroke="#eba0a4" stroke-width="1.2" />
<text x="454.8" y="305.3" font-family='"Liberation Sans", sans-serif' font-size="10.1" fill="#1a1a1a" stroke="#1a1a1a" stroke-width="0.3" textLength="34.6" lengthAdjust="spacingAndGlyphs" >without</text>
<text x="558.4" y="289.8" font-family='"Liberation Sans", sans-serif' font-size="11.1" fill="#1a1a1a" stroke="#1a1a1a" stroke-width="0.3" textLength="43.6" lengthAdjust="spacingAndGlyphs" >Cu 2p3/2</text>
<text x="576.4" y="306.8" font-family='"Liberation Sans", sans-serif' font-size="10.7" fill="#1a1a1a" stroke="#1a1a1a" stroke-width="0.3" textLength="12.3" lengthAdjust="spacingAndGlyphs" >Cu</text>
<text x="589.5" y="310.8" font-family='"Liberation Sans", sans-serif' font-size="7" fill="#1a1a1a" stroke="#1a1a1a" stroke-width="0.3" textLength="4" lengthAdjust="spacingAndGlyphs" >2</text>
<text x="594" y="306.8" font-family='"Liberation Sans", sans-serif' font-size="10.7" fill="#1a1a1a" stroke="#1a1a1a" stroke-width="0.3" textLength="7.6" lengthAdjust="spacingAndGlyphs" >O</text>
<text x="557.9" y="333.5" font-family='"Liberation Sans", sans-serif' font-size="10.5" fill="#1a1a1a" stroke="#1a1a1a" stroke-width="0.3" textLength="21.9" lengthAdjust="spacingAndGlyphs" >CuO</text>
<text x="462.7" y="340.9" font-family='"Liberation Sans", sans-serif' font-size="10.4" fill="#1a1a1a" stroke="#1a1a1a" stroke-width="0.3" textLength="43.1" lengthAdjust="spacingAndGlyphs" >Cu 2p1/2</text>
<text x="470" y="356.8" font-family='"Liberation Sans", sans-serif' font-size="10.4" fill="#1a1a1a" stroke="#1a1a1a" stroke-width="0.3" textLength="12.6" lengthAdjust="spacingAndGlyphs" >Cu</text>
<text x="482.4" y="360.6" font-family='"Liberation Sans", sans-serif' font-size="6.7" fill="#1a1a1a" stroke="#1a1a1a" stroke-width="0.3" textLength="3.8" lengthAdjust="spacingAndGlyphs" >2</text>
<text x="486.7" y="356.8" font-family='"Liberation Sans", sans-serif' font-size="10.4" fill="#1a1a1a" stroke="#1a1a1a" stroke-width="0.3" textLength="8.3" lengthAdjust="spacingAndGlyphs" >O</text>
<text x="453.8" y="371.3" font-family='"Liberation Sans", sans-serif' font-size="10.5" fill="#1a1a1a" stroke="#1a1a1a" stroke-width="0.3" textLength="21.5" lengthAdjust="spacingAndGlyphs" >CuO</text>
<text x="405.3" y="367.9" font-family='"Liberation Sans", sans-serif' font-size="10.1" fill="#1a1a1a" stroke="#1a1a1a" stroke-width="0.3" textLength="43.2" lengthAdjust="spacingAndGlyphs" >shake up</text>
<text x="509.5" y="387.7" font-family='"Liberation Sans", sans-serif' font-size="10.7" fill="#1a1a1a" stroke="#1a1a1a" stroke-width="0.3" textLength="43.6" lengthAdjust="spacingAndGlyphs" >shake up</text>
<text x="593.6" y="428" font-family='"Liberation Sans", sans-serif' font-size="10.5" fill="#1a1a1a" stroke="#1a1a1a" stroke-width="0.3" textLength="14" lengthAdjust="spacingAndGlyphs" >Cu</text>
<text x="607.2" y="422.8" font-family='"Liberation Sans", sans-serif' font-size="6.4" fill="#1a1a1a" stroke="#1a1a1a" stroke-width="0.3" textLength="3.7" lengthAdjust="spacingAndGlyphs" >0</text>
<line x1="478.6" y1="341.7" x2="478.6" y2="521" stroke="#484848" stroke-width="0.95" stroke-dasharray="1 2"/>
<line x1="573.3" y1="340" x2="573.3" y2="522.7" stroke="#484848" stroke-width="0.95" stroke-dasharray="1 2"/>
<line x1="585.4" y1="309" x2="585.4" y2="486" stroke="#484848" stroke-width="0.95" stroke-dasharray="1 2"/>
<line x1="591.5" y1="438.2" x2="591.5" y2="509" stroke="#484848" stroke-width="0.95" stroke-dasharray="1 2"/>
<polyline points="384.2,391.2 386.1,393.9 387.1,394.1 388.1,395.1 389.1,395.5 390.1,395.9 391.1,395.9 392.1,396.2 393.6,395.2 394.6,395.5 395.7,396.7 396.7,397 397.7,397.5 398.7,397.5 399.7,397.7 400.7,398.1 401.7,398.2 402.7,398.8 403.7,398 404.8,398 405.8,397.7 406.9,397.2 408.1,396.2 409.2,396.3 410.3,395.5 411.3,394 412.3,392.7 413.3,391.7 414.3,389.5 415.4,388.6 416.4,386.4 417.4,384.6 418.4,382.7 419.4,380.3 420.4,378.8 421.4,376.7 422.4,375.5 423.5,376.1 424.7,377 425.9,379 427,381.1 428,382.5 429,385 430,386.4 431,388 432,389.6 433,391.7 434.3,393.8 435.5,394.9 436.8,397 438.1,398.4 439.3,399 440.6,400 441.6,400.5 442.6,400.9 443.6,401.5 444.6,402.1 445.7,402.4 446.7,403.3 447.7,402.3 448.7,402.4 449.7,401.5 450.9,400.4 452,400.1 453.1,398.7 454.3,398.1 455.3,396.9 456.4,395.3 457.4,393.3 458.5,391.8 459.5,390 460.6,388 462,386.5 463.3,384.8 464.4,380.5 465.4,378.9 466.5,376.8 467.8,378.1 469.1,380 470.2,381.8 471.3,383.7 472.3,388.5 473.9,384.8 476.1,376.3 477.4,371 478.5,369.4 479.6,373.1 480.3,379.5 481.9,390.1 483.5,401.8 485.1,411.4 487.2,418.8 488.3,420.5 489.3,421.4 490.4,423.1 491.6,423.7 492.9,424 494.1,423.9 495.1,424.1 496.1,424.3 497.2,424.7 498.2,425 499.4,425.6 500.6,426.9 501.8,427.1 503,428 504,426.8 505,426.4 506.1,425.3 507.3,425.2 508.4,424.3 509.4,424.4 510.5,423.7 511.6,422.8 512.8,421.8 513.9,420.9 516.6,412.7 519.3,403.2 520.7,399.8 522.1,396.4 523.2,398.2 524.4,399.3 525.5,401.1 526.5,401.7 527.5,402.2 528.6,402.8 529.6,403.2 530.6,403.4 531.7,403.9 532.7,404.6 533.7,405.2 534.7,406.3 535.7,406.5 536.7,407.4 537.7,408 538.7,408.9 539.8,409.7 540.8,410.7 541.8,412.1 543.2,414.4 544.6,416.2 546,419.1 547.3,421.6 548.5,423.1 549.7,425 550.9,426.6 552.1,428 553.2,427.8 554.4,427.3 555.5,426.4 556.6,424.5 557.8,423.2 558.9,420.9 559.9,418.8 561,415.9 562,413.7 563,410.8 566,395 569,376.2 572,364.1 573,363.3 574,362.5 576,368.2 578,378.2 580,387.2 581.6,378.2 583,350.1 584,324.1 585,308 586,324.1 587.1,366.2 588.1,396.2 589.1,416.2 590.3,432.1 591.5,438.2 593.3,446.7 594.5,447.8 595.8,449.1 597,449.5 598.2,450.6 599.4,450.9 600.6,451 601.8,451.3 603,452.1 604,452.3 605.1,452.1 606.1,451.8 607.1,452.1 608.1,452.7 609.1,452.7" fill="none" stroke="#333" stroke-width="0.85" stroke-linejoin="round" stroke-linecap="round" />
<polyline points="384.8,460.2 385.9,460.8 387.1,460.2 388.2,460.7 389.2,459.9 390.2,460.5 391.3,459.4 392.3,459.4 393.3,459.4 394.4,460.2 395.4,460.2 396.4,460.7 397.4,460.9 398.4,460.2 399.5,460.7 400.5,460.2 401.6,460.1 402.8,460.4 403.9,460.7 405,460.6 406.2,460.8 407.3,460.5 408.3,460 409.4,458.7 410.4,458.7 411.4,457.7 412.5,457.1 413.7,456.2 414.8,455.7 416.6,458 417.6,456.7 418.6,456.3 419.6,455 420.6,455.2 421.6,455.3 422.6,456.6 423.7,457.1 424.9,457.8 426,458.4 427.2,458.4 428.4,458.8 429.6,458.9 430.8,458.7 432,458.3 433.2,458.4 434.3,459.2 435.4,459.1 436.5,459.9 437.6,460.5 438.7,460.5 439.8,461 440.9,461 441.9,462 443,462.3 444.1,462.5 445.1,461.8 446.1,461.2 447.2,461.2 448.2,460.7 449.3,460.6 450.5,461.7 451.6,461.6 452.7,461.1 453.9,460.7 455,460.2 456,459.2 457.1,458.4 458.1,457.7 459.1,456.4 460.2,455.8 461.3,455.4 462.5,455.1 463.6,454.4 464.7,454.1 465.9,455 467,455.7 468.2,456.4 469.3,457.2 470.4,458.2 471.4,458.9 472.5,459.3 473.6,460.5 474.6,461.6 475.6,461.7 476.7,462.5 477.7,463.2 478.8,462.1 479.8,461.1 480.9,462.6 482.1,463.6 483.2,464.3 484.4,464.9 485.6,465.4 486.8,465.7 488,466.6 489.2,466.7 490.4,465.8 491.5,465.9 492.7,465.6 494.1,466.7 495.5,468 496.5,468 497.6,468.2 498.6,468.2 499.6,468.6 500.7,468.1 501.8,468.4 502.8,468.5 503.9,468.3 505,468 506,467.4 507.1,467.5 508.1,466.5 509.1,466.6 510.2,465.7 511.3,465.3 512.4,464.5 513.5,463.3 514.6,462.5 515.6,462.3 516.7,461.5 517.7,461 518.7,460.5 519.9,460.7 521,461.2 522.2,461.2 523.4,461.1 524.5,461.5 525.7,462.2 526.8,462.5 527.9,462.8 529,462.6 530.1,463.2 531.2,463.3 532.3,463.2 533.3,463.2 534.3,463.4 535.4,462.5 536.4,462.9 537.5,462.3 538.7,461.8 539.8,461.1 541,461.3 542.2,461.5 543.5,462.2 544.7,462.4 545.9,463.4 547,464.3 548.2,465.1 549.4,466.6 550.8,467.4 552.1,467.3 553.1,467 554.1,466.6 555.2,466.4 556.2,466.3 557.2,466.6 558.2,466.1 559.4,464.3 560.6,462.8 561.8,461.2 563,460 564.2,457.2 565.5,454.3 566.7,451.7 567.9,449.1 568.9,448.8 569.9,448.5 570.9,447.6 572.7,449.1 574,451.8 575.2,453.9 576.4,455.5 577.6,457.9 578.8,460 580,461.9 581.2,462.8 582.4,464.8 583.4,464.3 584.5,464.4 585.5,464.2 586.7,465 587.9,466.1 589.1,468.7 590.3,470.9 591.3,470.9 592.3,470.5 593.3,470.3 594.5,470.4 595.8,470.9 597,471 598.2,471.4 599.4,471.9 600.6,471.6 601.8,472.2 603,472.1 604,472.1 605.1,473.1 606.1,473.1 607.1,472.8 608.1,471.9 609.1,471.9" fill="none" stroke="#e05555" stroke-width="0.85" stroke-linejoin="round" stroke-linecap="round" />
<clipPath id="clipd"><rect x="47.2" y="547.0" width="281.90000000000003" height="213.60000000000002"/></clipPath>
<rect x="47.2" y="547" width="281.9" height="213.6" fill="#e2fefe" />
<rect x="48.5" y="548.3" width="46.1" height="39.4" fill="#ebffff" />
<text x="60.1" y="570.8" font-family='"Liberation Sans", sans-serif' font-size="15.3" fill="#111" stroke="#111" stroke-width="0.3" textLength="19.3" lengthAdjust="spacingAndGlyphs" >(d)</text>
<rect x="221.3" y="535.9" width="108.2" height="10.2" fill="#f3f3f3" />
<line x1="221.6" y1="535.9" x2="221.6" y2="546.1" stroke="#d8d8d8" stroke-width="0.6" />
<line x1="329.1" y1="535.9" x2="329.1" y2="546.1" stroke="#c8c8c8" stroke-width="0.8" />
<text x="226.6" y="544.6" font-family='"Liberation Sans", sans-serif' font-size="5.8" font-weight="bold" fill="#333" stroke="#333" stroke-width="0.1" textLength="98.8" lengthAdjust="spacingAndGlyphs" >530.3125, 63.2 [0.0000, 0.0]</text>
<g clip-path="url(#clipd)">
<g transform="translate(183.1,568.0) rotate(-90)" font-family='"Liberation Serif", serif' font-size="17.5" fill="#2a2a2a"><text x="0" y="0" textLength="8.6" lengthAdjust="spacingAndGlyphs">O</text><text x="11.6" y="0" textLength="7" lengthAdjust="spacingAndGlyphs">l</text><text x="17.5" y="0" textLength="6" lengthAdjust="spacingAndGlyphs">s</text></g>
<path d="M47.5,686.6 C59.6,686.6 100.4,686.6 120,686.7 C139.6,686.8 155,686.9 165,687.1 C175,687.3 172.5,687.4 180,687.7 C187.5,688 200.8,688.4 210,688.8 C219.2,689.1 229.8,689.5 235,689.8 C240.2,690.1 225.4,690.3 241,690.4 C256.6,690.5 313.9,690.4 328.5,690.4" fill="none" stroke="#82c6da" stroke-width="2.0" stroke-linejoin="round" />
<path d="M47.5,760.3 C51.2,760.2 63.8,759.8 70,759.6 C76.2,759.4 80.7,759.3 85,759 C89.3,758.7 92.2,758.5 96.1,757.9 C100,757.3 104.6,756.7 108.2,755.5 C111.8,754.3 115.1,752.2 117.9,750.6 C120.7,749 122.8,748 125.2,745.8 C127.6,743.6 130.2,740.9 132.4,737.3 C134.6,733.6 136.6,728.8 138.5,723.9 C140.4,719 142.1,712.7 143.9,708.2 C145.7,703.7 147.7,700.9 149.3,697 C151,693.1 152.7,688.1 153.8,685.1 C154.9,682.1 155.1,681.6 156,679.1 C156.9,676.6 158,672.9 159,670.1 C160,667.4 161,665.1 162,662.6 C163,660.1 164,657.6 165,655.1 C166,652.6 167,649.6 168,647.6 C169,645.6 169.8,644.3 171.1,643.1 C172.4,641.9 174.1,640.5 175.6,640.2 C177.1,640 178.2,640.1 180,641.6 C181.8,643.1 184.5,646.3 186.3,649.4 C188.1,652.5 189.4,656.1 191,660.3 C192.6,664.5 194,669.9 195.6,674.4 C197.2,678.9 198.7,682.8 200.3,687 C201.9,691.2 203.2,694.8 205,699.5 C206.8,704.2 209.5,710.1 211.3,715.1 C213.1,720.1 214.7,725.6 216,729.2 C217.3,732.9 217.8,734.1 219.1,737 C220.4,739.9 222,743.5 223.8,746.4 C225.6,749.3 227.8,752.1 230.1,754.2 C232.4,756.3 235.3,757.8 237.9,758.9 C240.5,760 243.7,760.6 245.7,761 C247.7,761.4 249.3,761.4 250,761.5" fill="none" stroke="#555" stroke-width="0.85" stroke-linejoin="round" />
<path d="M138,760.4 C138.3,760.4 139.3,760.2 140,760 C140.7,759.8 141.3,759.6 142,759.4 C142.7,759.2 143.3,758.9 144,758.6 C144.7,758.3 145.3,757.9 146,757.5 C146.7,757.1 147.3,756.7 148,756.1 C148.7,755.6 149.3,755 150,754.4 C150.7,753.7 151.3,753 152,752.1 C152.7,751.3 153.3,750.4 154,749.4 C154.7,748.5 155.3,747.4 156,746.3 C156.7,745.1 157.3,743.9 158,742.6 C158.7,741.3 159.3,739.9 160,738.5 C160.7,737.1 161.3,735.6 162,734 C162.7,732.5 163.3,730.9 164,729.3 C164.7,727.7 165.3,726.1 166,724.5 C166.7,722.9 167.3,721.3 168,719.8 C168.7,718.3 169.3,716.8 170,715.4 C170.7,714 171.3,712.7 172,711.5 C172.7,710.4 173.3,709.3 174,708.4 C174.7,707.5 175.3,706.7 176,706.1 C176.7,705.5 177.3,705.1 178,704.8 C178.7,704.6 179.3,704.5 180,704.7 C180.7,704.8 181.3,705.1 182,705.5 C182.7,706 183.3,706.6 184,707.4 C184.7,708.2 185.3,709.1 186,710.1 C186.7,711.2 187.3,712.3 188,713.6 C188.7,714.8 189.3,716.2 190,717.6 C190.7,719.1 191.3,720.6 192,722.1 C192.7,723.6 193.3,725.1 194,726.7 C194.7,728.2 195.3,729.8 196,731.3 C196.7,732.8 197.3,734.3 198,735.8 C198.7,737.2 199.3,738.6 200,740 C200.7,741.3 201.3,742.6 202,743.8 C202.7,745 203.3,746.2 204,747.2 C204.7,748.3 205.3,749.3 206,750.2 C206.7,751.1 207.3,751.9 208,752.7 C208.7,753.4 209.3,754.1 210,754.7 C210.7,755.3 211.3,755.9 212,756.4 C212.7,756.9 213.3,757.3 214,757.7 C214.7,758.1 215.3,758.4 216,758.7 C216.7,759 217.3,759.2 218,759.4 C218.7,759.7 219.3,759.8 220,760 C220.7,760.2 221.7,760.3 222,760.4" fill="none" stroke="#555" stroke-width="0.85" stroke-linejoin="round" />
<path d="M188,761.1 C188.3,761 189.3,761 190,760.9 C190.7,760.8 191.3,760.8 192,760.7 C192.7,760.6 193.3,760.5 194,760.4 C194.7,760.2 195.3,760.1 196,759.9 C196.7,759.7 197.3,759.5 198,759.3 C198.7,759 199.3,758.8 200,758.5 C200.7,758.2 201.3,757.8 202,757.5 C202.7,757.1 203.3,756.7 204,756.3 C204.7,755.8 205.3,755.3 206,754.8 C206.7,754.3 207.3,753.8 208,753.2 C208.7,752.7 209.3,752.1 210,751.5 C210.7,751 211.3,750.4 212,749.8 C212.7,749.3 213.3,748.7 214,748.2 C214.7,747.7 215.3,747.2 216,746.7 C216.7,746.3 217.3,745.9 218,745.6 C218.7,745.3 219.3,745 220,744.8 C220.7,744.6 221.3,744.5 222,744.5 C222.7,744.5 223.3,744.6 224,744.7 C224.7,744.9 225.3,745.2 226,745.5 C226.7,745.9 227.3,746.3 228,746.8 C228.7,747.3 229.3,747.9 230,748.5 C230.7,749 231.3,749.7 232,750.3 C232.7,751 233.3,751.6 234,752.3 C234.7,752.9 235.3,753.5 236,754.1 C236.7,754.7 237.3,755.3 238,755.8 C238.7,756.3 239.3,756.8 240,757.2 C240.7,757.7 241.3,758.1 242,758.4 C242.7,758.8 243.3,759.1 244,759.3 C244.7,759.6 245.3,759.8 246,760 C246.7,760.2 247.3,760.3 248,760.5 C248.7,760.6 249.7,760.7 250,760.8" fill="none" stroke="#555" stroke-width="0.85" stroke-linejoin="round" />
<path d="M47.5,760.5 C54.6,760.5 80.5,760.4 90,760.5 C99.5,760.6 100.5,762.5 104.5,761.3 C108.5,760 111.2,755.6 114.2,753 C117.2,750.4 120.1,748.4 122.7,745.8 C125.3,743.2 127.8,740.7 130,737.3 C132.2,733.9 134.1,730.1 136.1,725.2 C138.1,720.4 140.5,712.6 142.1,708.2 C143.7,703.8 144.6,702 145.5,698.6 C146.4,695.2 147,691.9 147.8,688.1 C148.6,684.3 149.6,680.4 150.5,676 C151.4,671.6 152.5,667 153.5,662 C154.5,657 155.5,651.7 156.5,646 C157.5,640.3 158.5,634.2 159.5,628 C160.5,621.8 161.5,614.7 162.5,609 C163.5,603.3 164.5,598.2 165.5,594 C166.5,589.8 167.4,586.3 168.5,583.5 C169.6,580.7 170.8,578.5 172,577 C173.2,575.5 174.7,574.9 176,574.8 C177.3,574.7 178.7,575 180,576.5 C181.3,578 182.8,580.9 184,583.5 C185.2,586.1 186,588.2 187,592 C188,595.8 189.1,601 190,606 C190.9,611 191.6,616.3 192.5,622 C193.4,627.7 194.3,633.9 195.6,640 C196.9,646.1 198.7,652.8 200.3,658.8 C201.9,664.8 203.4,670.5 205,676 C206.6,681.5 208.1,687.2 209.7,691.6 C211.3,696 212.8,699.2 214.4,702.6 C216,706 217.5,708.9 219.1,712 C220.7,715.1 222.2,718 223.8,721.4 C225.4,724.8 227.2,729.4 228.5,732.3 C229.8,735.2 230.4,736.3 231.6,738.6 C232.8,740.9 234.2,743.6 235.5,746 C236.8,748.4 237.8,750.6 239.5,752.7 C241.2,754.9 244.1,757.6 245.7,758.9 C247.3,760.2 246.6,760 249,760.3 C251.4,760.6 258.2,760.5 260,760.5" fill="none" stroke="#555" stroke-width="0.85" stroke-linejoin="round" />
<path d="M47.5,759.5 C48.2,759.4 50.6,758.9 52,758.6 C53.4,758.3 54.7,758.1 56,757.9 C57.3,757.7 58.5,757.5 60,757.6 C61.5,757.7 63.3,758.3 65,758.6 C66.7,758.9 68.6,759.6 70.3,759.6 C72,759.6 73.4,758.9 75,758.4 C76.6,757.9 78.3,757 80,756.9 C81.7,756.8 83.3,757.3 85,757.5 C86.7,757.7 88.3,758.2 90,758.3 C91.7,758.3 93.3,758.2 95,757.8 C96.7,757.4 98.2,756.7 100,756 C101.8,755.3 104.1,754 105.8,753.6 C107.5,753.2 108.6,753.8 110,753.8 C111.4,753.8 112.5,753.9 114.3,753.4 C116.1,752.9 118.9,751.4 120.7,750.6 C122.5,749.8 123.6,749.4 125,748.5 C126.4,747.6 127.9,746.5 129.2,745.3 C130.5,744.1 131.9,742.7 133,741.2 C134.1,739.7 135.1,738.2 136,736.5 C136.9,734.8 137.7,732.7 138.5,731 C139.3,729.3 140.2,728.6 141,726.4 C141.8,724.2 142.7,720.6 143.5,718 C144.3,715.4 145.1,713.3 145.8,710.6 C146.6,707.9 147.3,704.4 148,702 C148.7,699.6 149.3,698.8 150,696 C150.7,693.2 151.6,689.4 152.3,685.1 C153,680.8 153.4,675 154.2,670 C154.9,665 156,660 156.8,655 C157.7,650 158.4,645 159.3,640 C160.2,635 161.1,630 162,625 C162.9,620 164,615 165,610 C166,605 166.9,599.8 168,595 C169.1,590.2 170.8,584.2 171.8,581 C172.9,577.8 173.5,577.1 174.3,576 C175.1,574.9 175.6,574.6 176.4,574.6 C177.2,574.6 178.2,575.2 179,576 C179.8,576.8 180.7,578.2 181.5,579.5 C182.3,580.8 182.8,581.7 183.6,583.6 C184.3,585.5 185.2,588 186,591 C186.8,594 187.4,597 188.2,601.8 C189,606.6 190.1,613.6 190.9,620 C191.8,626.4 192.5,634.1 193.3,640 C194.1,645.9 194.7,650.4 195.6,655.6 C196.5,660.8 197.8,666.3 198.8,671.3 C199.9,676.3 200.9,680.7 201.9,685.4 C202.9,690.1 203.9,695.3 205,699.5 C206.1,703.7 206.9,706.5 208.2,710.4 C209.5,714.3 211.3,719.6 212.9,722.9 C214.5,726.2 215.5,728 217.6,730 C219.7,732 223.1,733.3 225.4,734.7 C227.7,736.1 229.8,737.2 231.6,738.6 C233.4,740 234.7,741.2 236.3,743.3 C237.9,745.4 239.2,749.1 241,751.1 C242.8,753.1 245.2,754.2 247.3,755 C249.4,755.8 251.5,755.3 253.6,755.8 C255.7,756.3 258.1,757.7 260,758 C261.9,758.3 263.3,757.7 265,757.8 C266.7,757.9 267.5,758.4 270,758.5 C272.5,758.6 276.7,758.5 280,758.5 C283.3,758.5 286.7,758.5 290,758.3 C293.3,758.1 297.6,757.7 300,757.5 C302.4,757.3 303,757.1 304.5,757.2 C306,757.3 307.2,757.9 309,758.3 C310.8,758.7 313.2,759.4 315,759.6 C316.8,759.8 317.8,759.3 320,759.3 C322.2,759.3 327.1,759.5 328.5,759.6" fill="none" stroke="#b0282d" stroke-width="2.1" stroke-linejoin="round" />
</g>
<line x1="46.4" y1="547.5" x2="330" y2="547.5" stroke="#3a3a3a" stroke-width="1.8" />
<line x1="47.2" y1="547" x2="47.2" y2="766" stroke="#222" stroke-width="1.5" />
<line x1="329.1" y1="547" x2="329.1" y2="766" stroke="#7a7a7a" stroke-width="1.8" />
<rect x="48" y="760.6" width="280.3" height="1.2" fill="#e4e4e4" />
<line x1="47.2" y1="762.4" x2="329.1" y2="762.4" stroke="#222" stroke-width="1.2" />
<line x1="38.6" y1="760.3" x2="47.2" y2="760.3" stroke="#222" stroke-width="1.4" />
<line x1="42.2" y1="740.5" x2="47.2" y2="740.5" stroke="#222" stroke-width="1.4" />
<line x1="38.6" y1="720.8" x2="47.2" y2="720.8" stroke="#222" stroke-width="1.4" />
<line x1="42.2" y1="701" x2="47.2" y2="701" stroke="#222" stroke-width="1.4" />
<line x1="38.6" y1="681.3" x2="47.2" y2="681.3" stroke="#222" stroke-width="1.4" />
<line x1="42.2" y1="661.5" x2="47.2" y2="661.5" stroke="#222" stroke-width="1.4" />
<line x1="38.6" y1="641.8" x2="47.2" y2="641.8" stroke="#222" stroke-width="1.4" />
<line x1="42.2" y1="622" x2="47.2" y2="622" stroke="#222" stroke-width="1.4" />
<line x1="38.6" y1="602.3" x2="47.2" y2="602.3" stroke="#222" stroke-width="1.4" />
<line x1="42.2" y1="582.5" x2="47.2" y2="582.5" stroke="#222" stroke-width="1.4" />
<line x1="38.6" y1="562.8" x2="47.2" y2="562.8" stroke="#222" stroke-width="1.4" />
<text x="36.8" y="760.8" font-family='"Liberation Serif", serif' font-size="11.9" fill="#222" stroke="#222" stroke-width="0.2" textLength="7.5" lengthAdjust="spacingAndGlyphs" text-anchor="end">0</text>
<text x="36.8" y="721.3" font-family='"Liberation Serif", serif' font-size="11.9" fill="#222" stroke="#222" stroke-width="0.2" textLength="7.5" lengthAdjust="spacingAndGlyphs" text-anchor="end">2</text>
<text x="36.8" y="681.8" font-family='"Liberation Serif", serif' font-size="11.9" fill="#222" stroke="#222" stroke-width="0.2" textLength="7.5" lengthAdjust="spacingAndGlyphs" text-anchor="end">4</text>
<text x="36.8" y="642.3" font-family='"Liberation Serif", serif' font-size="11.9" fill="#222" stroke="#222" stroke-width="0.2" textLength="7.5" lengthAdjust="spacingAndGlyphs" text-anchor="end">6</text>
<text x="36.8" y="602.8" font-family='"Liberation Serif", serif' font-size="11.9" fill="#222" stroke="#222" stroke-width="0.2" textLength="7.5" lengthAdjust="spacingAndGlyphs" text-anchor="end">8</text>
<text x="36.8" y="563.3" font-family='"Liberation Serif", serif' font-size="11.9" fill="#222" stroke="#222" stroke-width="0.2" textLength="15.4" lengthAdjust="spacingAndGlyphs" text-anchor="end">10</text>
<line x1="329.5" y1="762.4" x2="329.5" y2="765.9" stroke="#222" stroke-width="1.4" />
<line x1="306" y1="762.4" x2="306" y2="765.9" stroke="#222" stroke-width="1.4" />
<line x1="282.5" y1="762.4" x2="282.5" y2="769.9" stroke="#222" stroke-width="1.4" />
<line x1="258.9" y1="762.4" x2="258.9" y2="765.9" stroke="#222" stroke-width="1.4" />
<line x1="235.4" y1="762.4" x2="235.4" y2="765.9" stroke="#222" stroke-width="1.4" />
<line x1="211.9" y1="762.4" x2="211.9" y2="769.9" stroke="#222" stroke-width="1.4" />
<line x1="188.4" y1="762.4" x2="188.4" y2="765.9" stroke="#222" stroke-width="1.4" />
<line x1="164.8" y1="762.4" x2="164.8" y2="765.9" stroke="#222" stroke-width="1.4" />
<line x1="141.3" y1="762.4" x2="141.3" y2="769.9" stroke="#222" stroke-width="1.4" />
<line x1="117.8" y1="762.4" x2="117.8" y2="765.9" stroke="#222" stroke-width="1.4" />
<line x1="94.2" y1="762.4" x2="94.2" y2="765.9" stroke="#222" stroke-width="1.4" />
<line x1="70.7" y1="762.4" x2="70.7" y2="769.9" stroke="#222" stroke-width="1.4" />
<line x1="47.2" y1="762.4" x2="47.2" y2="765.9" stroke="#222" stroke-width="1.4" />
<text x="70.6" y="781.5" font-family='"Liberation Serif", serif' font-size="13.9" fill="#222" stroke="#222" stroke-width="0.2" textLength="25.1" lengthAdjust="spacingAndGlyphs" text-anchor="middle">537</text>
<text x="141.2" y="781.5" font-family='"Liberation Serif", serif' font-size="13.9" fill="#222" stroke="#222" stroke-width="0.2" textLength="25.1" lengthAdjust="spacingAndGlyphs" text-anchor="middle">534</text>
<text x="211.8" y="781.5" font-family='"Liberation Serif", serif' font-size="13.9" fill="#222" stroke="#222" stroke-width="0.2" textLength="25.1" lengthAdjust="spacingAndGlyphs" text-anchor="middle">531</text>
<text x="282.4" y="781.5" font-family='"Liberation Serif", serif' font-size="13.9" fill="#222" stroke="#222" stroke-width="0.2" textLength="25.1" lengthAdjust="spacingAndGlyphs" text-anchor="middle">528</text>
<text x="115.3" y="795.8" font-family='"Liberation Serif", serif' font-size="13.7" fill="#222" stroke="#222" stroke-width="0.35" textLength="143.1" lengthAdjust="spacingAndGlyphs" >Binding Energy (eV)</text>
<text transform="translate(13.5,666.3) rotate(-90)" x="0" y="0" font-family='"Liberation Serif", serif' font-size="18.2" fill="#222" stroke="#222" stroke-width="0.2" textLength="23.5" lengthAdjust="spacingAndGlyphs">CPS</text>
<text x="47.3" y="546.7" font-family='"Liberation Serif", serif' font-size="14.3" fill="#222" stroke="#222" stroke-width="0.2" textLength="7.3" lengthAdjust="spacingAndGlyphs" >x</text>
<text x="61.4" y="546.7" font-family='"Liberation Serif", serif' font-size="13.9" fill="#222" stroke="#222" stroke-width="0.2" textLength="15" lengthAdjust="spacingAndGlyphs" >10</text>
<text x="77.7" y="539.6" font-family='"Liberation Serif", serif' font-size="13.9" fill="#222" stroke="#222" stroke-width="0.2" textLength="7.8" lengthAdjust="spacingAndGlyphs" >2</text>
<clipPath id="clipe"><rect x="383.1" y="547.0" width="266.0" height="213.0"/></clipPath>
<rect x="383.1" y="547" width="266" height="213" fill="#e2fefe" />
<rect x="384.4" y="548.3" width="41.1" height="38.5" fill="#ebffff" />
<text x="395.9" y="571.2" font-family='"Liberation Sans", sans-serif' font-size="15.9" fill="#111" stroke="#111" stroke-width="0.3" textLength="19.1" lengthAdjust="spacingAndGlyphs" >(e)</text>
<rect x="535" y="536.3" width="113.8" height="9.7" fill="#f3f3f3" />
<line x1="535.3" y1="536.3" x2="535.3" y2="546" stroke="#d8d8d8" stroke-width="0.6" />
<line x1="648.4" y1="536.3" x2="648.4" y2="546" stroke="#c8c8c8" stroke-width="0.8" />
<text x="539.5" y="544.5" font-family='"Liberation Sans", sans-serif' font-size="5.8" font-weight="bold" fill="#333" stroke="#333" stroke-width="0.1" textLength="105.5" lengthAdjust="spacingAndGlyphs" >532.0625, 1651.8 [0.1250, 79.7]</text>
<g clip-path="url(#clipe)">
<g transform="translate(530.1,567.8) rotate(-90)" font-family='"Liberation Serif", serif' font-size="17.5" fill="#2a2a2a"><text x="0" y="0" textLength="8.6" lengthAdjust="spacingAndGlyphs">O</text><text x="11.6" y="0" textLength="7" lengthAdjust="spacingAndGlyphs">l</text><text x="17.5" y="0" textLength="6" lengthAdjust="spacingAndGlyphs">s</text></g>
<path d="M383.5,729.2 C395.7,729.2 443.9,729 456.8,729.2 C469.7,729.4 458.5,730.2 460.7,730.4 C462.9,730.6 465.1,730.3 470,730.4 C474.9,730.5 483,730.7 490,730.9 C497,731.1 506.1,731.3 511.8,731.8 C517.5,732.2 518.7,733 524.5,733.6 C530.3,734.2 539.4,735 546.4,735.5 C553.4,736 557.4,736.2 566.3,736.5 C575.2,736.8 586.3,736.9 600,737 C613.7,737.1 640.4,737 648.5,737" fill="none" stroke="#82c6da" stroke-width="2.0" stroke-linejoin="round" />
<path d="M490,760.5 C490.6,760.2 492.6,760.3 493.6,759 C494.6,757.7 495.2,756.1 496.1,752.8 C497,749.5 498.1,744 499.1,739.1 C500.1,734.2 501,728.9 502,723.3 C503,717.7 504,711.2 505,705.6 C506,700 507.2,694.6 508,689.8 C508.8,685 509.2,682 509.8,677 C510.4,672 511,665.9 511.5,660 C512,654.1 512.5,647.1 513,641.8 C513.5,636.5 514.2,632.5 514.8,628 C515.4,623.5 515.9,618.6 516.6,614.5 C517.3,610.4 518,606.2 518.8,603.5 C519.6,600.8 520.6,598.1 521.5,598.2 C522.4,598.3 523.2,600.4 524,604 C524.8,607.6 525.6,615.2 526.4,620 C527.1,624.8 527.9,629.1 528.5,633 C529.1,636.9 529.5,638.4 530,643.6 C530.5,648.8 531.2,657.4 531.8,664 C532.4,670.6 533,677.9 533.6,683.5 C534.2,689.1 534.9,693.3 535.5,697.5 C536.1,701.7 536.4,703.4 537.3,708.9 C538.2,714.4 539.7,724.4 540.9,730.7 C542.1,737.1 543.4,743 544.5,747 C545.6,751 546.6,752.9 547.5,755 C548.4,757.1 549.1,758.8 550,759.7 C550.9,760.6 552.5,760.4 553,760.5" fill="none" stroke="#555" stroke-width="0.85" stroke-linejoin="round" />
<path d="M518,760.5 C518.7,760.3 520.7,760.3 522,759.5 C523.3,758.7 524.7,757.9 526,755.5 C527.3,753.1 528.6,750.2 530,745.2 C531.4,740.2 533.3,731.3 534.5,725.3 C535.7,719.2 536.4,714.3 537.3,708.9 C538.2,703.5 539.1,697.4 540,692.6 C540.9,687.8 541.7,682.6 542.7,679.9 C543.8,677.2 545.1,676 546.3,676.3 C547.5,676.6 548.8,678.4 550,681.7 C551.2,685 552.4,690.8 553.6,696.2 C554.8,701.7 556,708.4 557.2,714.4 C558.4,720.4 559.7,727.1 560.9,732.5 C562.1,737.9 563,743.1 564.5,747 C566,750.9 568.1,754 569.9,756.1 C571.7,758.2 573.7,759 575.4,759.7 C577.1,760.4 579.2,760.4 580,760.5" fill="none" stroke="#555" stroke-width="0.85" stroke-linejoin="round" />
<path d="M420,760.5 C421.2,760.4 422.4,760.3 427.2,759.7 C432,759.1 443,757.9 448.9,756.8 C454.8,755.6 458.4,753.9 462.7,752.8 C467,751.6 470.6,750.7 474.5,749.9 C478.4,749.1 483,748.5 486.3,747.9 C489.6,747.3 491.6,746.9 494.2,746.5 C496.8,746.1 499.4,745.6 502,745.4 C504.6,745.2 507.3,745.1 510,745.2 C512.7,745.3 514.7,745.7 518,746.2 C521.3,746.7 526.5,747.1 530,748 C533.5,748.9 536.1,750.4 539.1,751.6 C542.1,752.8 545.1,754.2 548.1,755.2 C551.1,756.2 554.2,757.1 557.2,757.9 C560.2,758.6 563.8,759.3 566.3,759.7 C568.8,760.1 571,760.4 572,760.5" fill="none" stroke="#555" stroke-width="0.85" stroke-linejoin="round" />
<path d="M383.5,760.2 C386.2,760.1 396,760 400,759.8 C404,759.5 402.7,759.2 407.6,758.7 C412.5,758.2 422.3,757.6 429.2,756.8 C436.1,756 443.3,754.9 448.9,753.8 C454.5,752.6 458.4,751.2 462.7,749.9 C467,748.6 470.6,747.2 474.5,745.9 C478.4,744.6 483.4,743.3 486.3,742 C489.2,740.7 490.4,740.2 492.2,738.1 C494,736 495.6,733 497.1,729.2 C498.6,725.4 499.8,720.3 501.1,715.4 C502.4,710.5 503.9,705.6 505,699.7 C506.1,693.8 507.1,687.5 508,680 C508.9,672.5 509.7,663 510.5,655 C511.3,647 512.2,639.5 513,632 C513.8,624.5 514.6,617 515.5,610 C516.4,603 517.5,596.4 518.5,590 C519.5,583.6 520.4,574 521.4,571.8 C522.4,569.6 523.5,573.6 524.5,577 C525.5,580.4 526.5,586.2 527.5,592 C528.5,597.8 529.6,606.5 530.5,612 C531.4,617.5 532,621.2 532.7,625 C533.5,628.8 534.2,632.5 535,635 C535.8,637.5 536.3,638.3 537.3,640 C538.3,641.7 539.5,643.8 540.9,645.4 C542.2,647 544.2,648.1 545.4,649.9 C546.6,651.7 547.2,652.9 548.1,656.3 C549,659.6 550,664.7 551,670 C552,675.3 553,682.1 554,688 C555,693.9 556.1,699.7 557.2,705.3 C558.4,710.9 559.7,716.5 560.9,721.6 C562.1,726.8 563.3,732.3 564.5,736.2 C565.7,740.1 566.6,742.5 568.1,745.2 C569.6,747.9 571.5,750.5 573.6,752.5 C575.7,754.5 578.4,756 580.8,757 C583.2,758 584.9,757.9 588.1,758.3 C591.3,758.7 589.9,759.1 600,759.2 C610.1,759.4 640.4,759.2 648.5,759.2" fill="none" stroke="#555" stroke-width="0.85" stroke-linejoin="round" />
<path d="M383.9,758.7 C385.8,758.7 391.4,758.7 395,758.6 C398.6,758.5 403.4,758.6 405.6,758.3 C407.9,758 406.9,757.1 408.5,756.8 C410.1,756.4 412.3,756.4 415.4,756.2 C418.5,756 423.6,756.4 427.2,755.8 C430.8,755.2 433.8,753.7 437.1,752.8 C440.4,751.9 443.9,750.9 446.9,750.3 C449.8,749.7 452.2,749.9 454.8,749.3 C457.4,748.7 460.1,747.5 462.7,746.5 C465.3,745.5 468,744.5 470.6,743.4 C473.2,742.2 476.3,740.6 478.4,739.6 C480.5,738.6 481.8,738.7 483.3,737.1 C484.8,735.5 486.2,732.5 487.3,730.2 C488.4,727.9 489.1,725.8 490.2,723.3 C491.3,720.8 493,718.7 494.2,715.4 C495.4,712.1 496.1,707.9 497.1,703.6 C498.1,699.3 499.2,694 500.1,689.8 C501,685.6 501.8,683.2 502.7,678.2 C503.6,673.2 504.6,666.1 505.5,660 C506.4,653.9 507.1,648.5 508.2,641.8 C509.2,635.1 510.6,627 511.8,620 C513,613 514.4,606.1 515.5,600 C516.6,593.9 517.4,587.6 518.2,583.6 C519,579.6 519.8,577.7 520.5,576 C521.2,574.3 521.9,573.5 522.7,573.6 C523.5,573.7 524.6,575.1 525.5,576.5 C526.4,577.9 527.2,577.6 528.2,581.8 C529.2,586 530.6,595.4 531.8,601.8 C533,608.2 534.5,615.6 535.5,620 C536.5,624.4 537,624.4 538,628 C539,631.6 540.5,638.3 541.8,641.8 C543,645.3 544.4,646.6 545.5,649.1 C546.6,651.6 547.6,653.4 548.5,657 C549.4,660.6 549.9,665.5 550.9,670.8 C551.9,676.1 553.3,683.2 554.5,689 C555.7,694.8 556.9,699.9 558.1,705.3 C559.3,710.7 560.6,716.5 561.8,721.6 C563,726.8 564,732.6 565.4,736.2 C566.8,739.8 568.2,741 569.9,743.4 C571.6,745.8 573.3,748.6 575.4,750.7 C577.5,752.8 580.2,754.8 582.6,756.1 C585,757.4 587,758.1 589.9,758.6 C592.8,759.1 590.2,758.9 600,759 C609.8,759.1 640.4,759.1 648.5,759.1" fill="none" stroke="#b0282d" stroke-width="2.1" stroke-linejoin="round" />
</g>
<line x1="382.3" y1="547.5" x2="650" y2="547.5" stroke="#3a3a3a" stroke-width="1.8" />
<line x1="383.1" y1="547" x2="383.1" y2="764.3" stroke="#222" stroke-width="1.5" />
<line x1="649.1" y1="547" x2="649.1" y2="764.3" stroke="#2a2a2a" stroke-width="1.6" />
<line x1="383.1" y1="760.5" x2="649.1" y2="760.5" stroke="#333" stroke-width="1.2" />
<line x1="374.3" y1="759.5" x2="383.1" y2="759.5" stroke="#222" stroke-width="1.4" />
<line x1="378.4" y1="751.3" x2="383.1" y2="751.3" stroke="#222" stroke-width="1.4" />
<line x1="378.4" y1="743.1" x2="383.1" y2="743.1" stroke="#222" stroke-width="1.4" />
<line x1="378.4" y1="734.9" x2="383.1" y2="734.9" stroke="#222" stroke-width="1.4" />
<line x1="378.4" y1="726.7" x2="383.1" y2="726.7" stroke="#222" stroke-width="1.4" />
<line x1="374.3" y1="718.5" x2="383.1" y2="718.5" stroke="#222" stroke-width="1.4" />
<line x1="378.4" y1="710.4" x2="383.1" y2="710.4" stroke="#222" stroke-width="1.4" />
<line x1="378.4" y1="702.2" x2="383.1" y2="702.2" stroke="#222" stroke-width="1.4" />
<line x1="378.4" y1="694" x2="383.1" y2="694" stroke="#222" stroke-width="1.4" />
<line x1="378.4" y1="685.8" x2="383.1" y2="685.8" stroke="#222" stroke-width="1.4" />
<line x1="374.3" y1="677.6" x2="383.1" y2="677.6" stroke="#222" stroke-width="1.4" />
<line x1="378.4" y1="669.4" x2="383.1" y2="669.4" stroke="#222" stroke-width="1.4" />
<line x1="378.4" y1="661.2" x2="383.1" y2="661.2" stroke="#222" stroke-width="1.4" />
<line x1="378.4" y1="653" x2="383.1" y2="653" stroke="#222" stroke-width="1.4" />
<line x1="378.4" y1="644.8" x2="383.1" y2="644.8" stroke="#222" stroke-width="1.4" />
<line x1="374.3" y1="636.6" x2="383.1" y2="636.6" stroke="#222" stroke-width="1.4" />
<line x1="378.4" y1="628.5" x2="383.1" y2="628.5" stroke="#222" stroke-width="1.4" />
<line x1="378.4" y1="620.3" x2="383.1" y2="620.3" stroke="#222" stroke-width="1.4" />
<line x1="378.4" y1="612.1" x2="383.1" y2="612.1" stroke="#222" stroke-width="1.4" />
<line x1="378.4" y1="603.9" x2="383.1" y2="603.9" stroke="#222" stroke-width="1.4" />
<line x1="374.3" y1="595.7" x2="383.1" y2="595.7" stroke="#222" stroke-width="1.4" />
<line x1="378.4" y1="587.5" x2="383.1" y2="587.5" stroke="#222" stroke-width="1.4" />
<line x1="378.4" y1="579.3" x2="383.1" y2="579.3" stroke="#222" stroke-width="1.4" />
<line x1="378.4" y1="571.1" x2="383.1" y2="571.1" stroke="#222" stroke-width="1.4" />
<line x1="378.4" y1="562.9" x2="383.1" y2="562.9" stroke="#222" stroke-width="1.4" />
<line x1="374.3" y1="554.8" x2="383.1" y2="554.8" stroke="#222" stroke-width="1.4" />
<line x1="378.4" y1="546.6" x2="383.1" y2="546.6" stroke="#222" stroke-width="1.4" />
<text x="373.6" y="760" font-family='"Liberation Serif", serif' font-size="12.1" fill="#222" stroke="#222" stroke-width="0.2" textLength="7.3" lengthAdjust="spacingAndGlyphs" text-anchor="end">0</text>
<text x="373.6" y="719" font-family='"Liberation Serif", serif' font-size="12.1" fill="#222" stroke="#222" stroke-width="0.2" textLength="7.3" lengthAdjust="spacingAndGlyphs" text-anchor="end">5</text>
<text x="373.6" y="678.1" font-family='"Liberation Serif", serif' font-size="12.1" fill="#222" stroke="#222" stroke-width="0.2" textLength="15.5" lengthAdjust="spacingAndGlyphs" text-anchor="end">10</text>
<text x="373.6" y="637.1" font-family='"Liberation Serif", serif' font-size="12.1" fill="#222" stroke="#222" stroke-width="0.2" textLength="15.5" lengthAdjust="spacingAndGlyphs" text-anchor="end">15</text>
<text x="373.6" y="596.2" font-family='"Liberation Serif", serif' font-size="12.1" fill="#222" stroke="#222" stroke-width="0.2" textLength="15.5" lengthAdjust="spacingAndGlyphs" text-anchor="end">20</text>
<text x="373.6" y="555.2" font-family='"Liberation Serif", serif' font-size="12.1" fill="#222" stroke="#222" stroke-width="0.2" textLength="15.5" lengthAdjust="spacingAndGlyphs" text-anchor="end">25</text>
<line x1="648.7" y1="760.5" x2="648.7" y2="764.3" stroke="#222" stroke-width="1.4" />
<line x1="626.5" y1="760.5" x2="626.5" y2="764.3" stroke="#222" stroke-width="1.4" />
<line x1="604.3" y1="760.5" x2="604.3" y2="768" stroke="#222" stroke-width="1.4" />
<line x1="582.1" y1="760.5" x2="582.1" y2="764.3" stroke="#222" stroke-width="1.4" />
<line x1="560" y1="760.5" x2="560" y2="764.3" stroke="#222" stroke-width="1.4" />
<line x1="537.8" y1="760.5" x2="537.8" y2="768" stroke="#222" stroke-width="1.4" />
<line x1="515.6" y1="760.5" x2="515.6" y2="764.3" stroke="#222" stroke-width="1.4" />
<line x1="493.5" y1="760.5" x2="493.5" y2="764.3" stroke="#222" stroke-width="1.4" />
<line x1="471.3" y1="760.5" x2="471.3" y2="768" stroke="#222" stroke-width="1.4" />
<line x1="449.1" y1="760.5" x2="449.1" y2="764.3" stroke="#222" stroke-width="1.4" />
<line x1="427" y1="760.5" x2="427" y2="764.3" stroke="#222" stroke-width="1.4" />
<line x1="404.8" y1="760.5" x2="404.8" y2="768" stroke="#222" stroke-width="1.4" />
<line x1="382.6" y1="760.5" x2="382.6" y2="764.3" stroke="#222" stroke-width="1.4" />
<text x="404.9" y="779.8" font-family='"Liberation Serif", serif' font-size="13.1" fill="#222" stroke="#222" stroke-width="0.2" textLength="23.9" lengthAdjust="spacingAndGlyphs" text-anchor="middle">537</text>
<text x="471.4" y="779.8" font-family='"Liberation Serif", serif' font-size="13.1" fill="#222" stroke="#222" stroke-width="0.2" textLength="23.9" lengthAdjust="spacingAndGlyphs" text-anchor="middle">534</text>
<text x="537.9" y="779.8" font-family='"Liberation Serif", serif' font-size="13.1" fill="#222" stroke="#222" stroke-width="0.2" textLength="23.9" lengthAdjust="spacingAndGlyphs" text-anchor="middle">531</text>
<text x="604.4" y="779.8" font-family='"Liberation Serif", serif' font-size="13.1" fill="#222" stroke="#222" stroke-width="0.2" textLength="23.9" lengthAdjust="spacingAndGlyphs" text-anchor="middle">528</text>
<text x="446.8" y="793.9" font-family='"Liberation Serif", serif' font-size="13.3" fill="#222" stroke="#222" stroke-width="0.35" textLength="137.2" lengthAdjust="spacingAndGlyphs" >Binding Energy (eV)</text>
<text transform="translate(351.2,665.1) rotate(-90)" x="0" y="0" font-family='"Liberation Serif", serif' font-size="17.1" fill="#222" stroke="#222" stroke-width="0.2" textLength="22.6" lengthAdjust="spacingAndGlyphs">CPS</text>
<text x="382.3" y="545.9" font-family='"Liberation Serif", serif' font-size="13.6" fill="#222" stroke="#222" stroke-width="0.2" textLength="7.8" lengthAdjust="spacingAndGlyphs" >x</text>
<text x="395.9" y="545.9" font-family='"Liberation Serif", serif' font-size="13.1" fill="#222" stroke="#222" stroke-width="0.2" textLength="14.9" lengthAdjust="spacingAndGlyphs" >10</text>
<text x="411.8" y="539.8" font-family='"Liberation Serif", serif' font-size="12.2" fill="#222" stroke="#222" stroke-width="0.2" textLength="7.3" lengthAdjust="spacingAndGlyphs" >2</text>
</svg>
</body></html>
